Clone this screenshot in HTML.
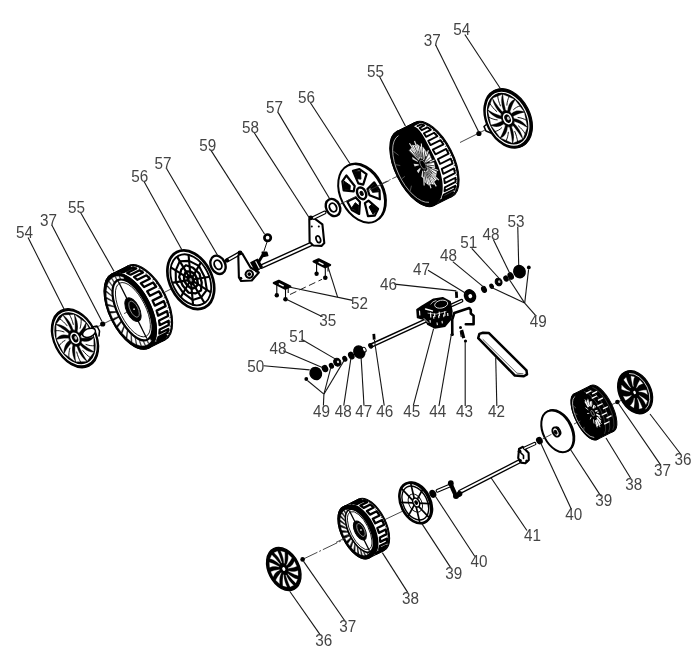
<!DOCTYPE html>
<html><head><meta charset="utf-8"><title>Wheel and drive assembly - exploded parts diagram</title>
<style>
html,body{margin:0;padding:0;background:#fff;}
svg{display:block;filter:grayscale(1)}
text{font-family:"Liberation Sans",sans-serif;fill:#444;}
</style></head><body>
<svg width="700" height="656" viewBox="0 0 700 656">
<rect width="700" height="656" fill="#fff"/>
<line x1="84" y1="333.5" x2="103" y2="324" stroke="#333" stroke-width="0.9" />
<line x1="103" y1="324" x2="112" y2="319.5" stroke="#333" stroke-width="0.9" />
<line x1="165" y1="292" x2="171" y2="289" stroke="#333" stroke-width="0.9" />
<line x1="327" y1="210.5" x2="347" y2="201" stroke="#333" stroke-width="0.9" />
<line x1="381" y1="184" x2="398" y2="176" stroke="#333" stroke-width="0.9" stroke-dasharray="7 2 1.5 2"/>
<line x1="460" y1="142.5" x2="486" y2="129.5" stroke="#333" stroke-width="0.9" />
<line x1="303" y1="559.2" x2="343" y2="540" stroke="#333" stroke-width="0.9" stroke-dasharray="16 2 2 2"/>
<line x1="384" y1="520" x2="403" y2="511" stroke="#333" stroke-width="0.9" />
<line x1="574" y1="424" x2="580" y2="421" stroke="#333" stroke-width="0.9" />
<line x1="612" y1="404.5" x2="622" y2="400" stroke="#333" stroke-width="0.9" />
<ellipse cx="75" cy="338.2" rx="21.22" ry="31.2" transform="rotate(-26.565 75 338.2)" fill="#000" stroke="#000" stroke-width="1.4" />
<ellipse cx="75" cy="338.2" rx="19.09" ry="28.08" transform="rotate(-26.565 75 338.2)" fill="none" stroke="#fff" stroke-width="1.1" />
<polygon points="80.94,335.87 82.43,334.72 83.74,333.23 84.83,331.41 85.67,329.26 86.23,326.78 86.48,324 93.02,336.69 91.2,337.17 89.35,337.52 87.46,337.74 85.54,337.85 83.6,337.89 81.65,337.85" fill="#fff" stroke="#fff" stroke-width="0.3" stroke-linejoin="round" stroke-linecap="round" />
<polyline points="84.94,335.94 86.57,335.01 88.09,333.84 89.48,332.42 90.72,330.74" fill="none" stroke="#000" stroke-width="0.9" stroke-linejoin="round" stroke-linecap="round" />
<polygon points="82.06,341.33 84.11,341.76 86.14,341.84 88.12,341.55 90.02,340.86 91.8,339.75 93.42,338.21 93.67,351.16 91.63,350.06 89.61,348.84 87.62,347.52 85.66,346.12 83.72,344.64 81.79,343.11" fill="#fff" stroke="#fff" stroke-width="0.3" stroke-linejoin="round" stroke-linecap="round" />
<polyline points="86.01,344.46 88.08,345.14 90.17,345.58 92.25,345.77 94.31,345.68" fill="none" stroke="#000" stroke-width="0.9" stroke-linejoin="round" stroke-linecap="round" />
<polygon points="80.48,345.59 82.3,347.45 84.29,349.06 86.4,350.41 88.63,351.45 90.95,352.13 93.32,352.41 87.19,360.68 85.7,358.42 84.29,356.1 82.97,353.75 81.7,351.36 80.5,348.94 79.34,346.49" fill="#fff" stroke="#fff" stroke-width="0.3" stroke-linejoin="round" stroke-linecap="round" />
<polyline points="82.87,350.59 84.6,352.62 86.45,354.5 88.43,356.22 90.53,357.76" fill="none" stroke="#000" stroke-width="0.9" stroke-linejoin="round" stroke-linecap="round" />
<polygon points="76.81,347.03 77.71,349.6 78.89,352.13 80.33,354.61 82.04,356.97 84.01,359.18 86.22,361.19 76.05,361.61 75.68,359.05 75.43,356.53 75.27,354.03 75.19,351.57 75.18,349.13 75.23,346.71" fill="#fff" stroke="#fff" stroke-width="0.3" stroke-linejoin="round" stroke-linecap="round" />
<polyline points="76.72,351.99 77.45,354.59 78.36,357.19 79.48,359.79 80.82,362.37" fill="none" stroke="#000" stroke-width="0.9" stroke-linejoin="round" stroke-linecap="round" />
<polygon points="72.45,345.1 72.08,347.39 72,349.88 72.22,352.54 72.75,355.33 73.62,358.22 74.84,361.18 64.52,353.6 65.41,351.72 66.4,349.95 67.46,348.27 68.6,346.68 69.79,345.15 71.03,343.68" fill="#fff" stroke="#fff" stroke-width="0.3" stroke-linejoin="round" stroke-linecap="round" />
<polyline points="69.92,348.12 69.36,350.3 68.99,352.63 68.82,355.12 68.88,357.75" fill="none" stroke="#000" stroke-width="0.9" stroke-linejoin="round" stroke-linecap="round" />
<polygon points="69.06,340.53 67.57,341.68 66.26,343.17 65.17,344.99 64.33,347.14 63.77,349.62 63.52,352.4 56.98,339.71 58.8,339.23 60.65,338.88 62.54,338.66 64.46,338.55 66.4,338.51 68.35,338.55" fill="#fff" stroke="#fff" stroke-width="0.3" stroke-linejoin="round" stroke-linecap="round" />
<polyline points="65.06,340.46 63.43,341.39 61.91,342.56 60.52,343.98 59.28,345.66" fill="none" stroke="#000" stroke-width="0.9" stroke-linejoin="round" stroke-linecap="round" />
<polygon points="67.94,335.07 65.89,334.64 63.86,334.56 61.88,334.85 59.98,335.54 58.2,336.65 56.58,338.19 56.33,325.24 58.37,326.34 60.39,327.56 62.38,328.88 64.34,330.28 66.28,331.76 68.21,333.29" fill="#fff" stroke="#fff" stroke-width="0.3" stroke-linejoin="round" stroke-linecap="round" />
<polyline points="63.99,331.94 61.92,331.26 59.83,330.82 57.75,330.63 55.69,330.72" fill="none" stroke="#000" stroke-width="0.9" stroke-linejoin="round" stroke-linecap="round" />
<polygon points="69.52,330.81 67.7,328.95 65.71,327.34 63.6,325.99 61.37,324.95 59.05,324.27 56.68,323.99 62.81,315.72 64.3,317.98 65.71,320.3 67.03,322.65 68.3,325.04 69.5,327.46 70.66,329.91" fill="#fff" stroke="#fff" stroke-width="0.3" stroke-linejoin="round" stroke-linecap="round" />
<polyline points="67.13,325.81 65.4,323.78 63.55,321.9 61.57,320.18 59.47,318.64" fill="none" stroke="#000" stroke-width="0.9" stroke-linejoin="round" stroke-linecap="round" />
<polygon points="73.19,329.37 72.29,326.8 71.11,324.27 69.67,321.79 67.96,319.43 65.99,317.22 63.78,315.21 73.95,314.79 74.32,317.35 74.57,319.87 74.73,322.37 74.81,324.83 74.82,327.27 74.77,329.69" fill="#fff" stroke="#fff" stroke-width="0.3" stroke-linejoin="round" stroke-linecap="round" />
<polyline points="73.28,324.41 72.55,321.81 71.64,319.21 70.52,316.61 69.18,314.03" fill="none" stroke="#000" stroke-width="0.9" stroke-linejoin="round" stroke-linecap="round" />
<polygon points="77.55,331.3 77.92,329.01 78,326.52 77.78,323.86 77.25,321.07 76.38,318.18 75.16,315.22 85.48,322.8 84.59,324.68 83.6,326.45 82.54,328.13 81.4,329.72 80.21,331.25 78.97,332.72" fill="#fff" stroke="#fff" stroke-width="0.3" stroke-linejoin="round" stroke-linecap="round" />
<polyline points="80.08,328.28 80.64,326.1 81.01,323.77 81.18,321.28 81.12,318.65" fill="none" stroke="#000" stroke-width="0.9" stroke-linejoin="round" stroke-linecap="round" />
<ellipse cx="75" cy="338.2" rx="3.61" ry="5.3" transform="rotate(-26.565 75 338.2)" fill="#000" stroke="#fff" stroke-width="1.5" />
<ellipse cx="75.72" cy="337.84" rx="1.27" ry="1.87" transform="rotate(-26.565 75.72 337.84)" fill="#ccc" stroke="none" stroke-width="0" />
<ellipse cx="89" cy="332.8" rx="6.8" ry="4.2" transform="rotate(-22 89 332.8)" fill="#fff" stroke="#000" stroke-width="1.5"/>
<polyline points="92,327 97,326 99.5,331 99,336" fill="none" stroke="#000" stroke-width="1.6" stroke-linejoin="round" stroke-linecap="round" />
<circle cx="102.7" cy="324" r="2.6" fill="#000" stroke="none" stroke-width="1"/>
<ellipse cx="130.3" cy="311" rx="20.75" ry="41.5" transform="rotate(-26.565 130.3 311)" fill="#000" stroke="#000" stroke-width="1" />
<ellipse cx="146.4" cy="302.95" rx="20.75" ry="41.5" transform="rotate(-26.565 146.4 302.95)" fill="#000" stroke="#000" stroke-width="1" />
<polygon points="148.86,348.12 164.96,340.07 127.84,265.83 111.74,273.88" fill="#000" stroke="#000" stroke-width="1" stroke-linejoin="round" stroke-linecap="round" />
<polygon points="113.17,274.33 114.48,273.78 115.87,273.42 117.33,273.24 118.86,273.23 120.45,273.41 122.1,273.78 123.78,274.31 125.51,275.03 127.26,275.92 129.04,276.98 130.82,278.2 132.61,279.58 134.38,281.11 136.15,282.78 137.89,284.59 139.6,286.52 141.27,288.57 142.88,290.73 144.45,292.98 145.94,295.32 147.37,297.74 148.72,300.21 149.98,302.74 151.15,305.3 152.23,307.89 153.2,310.49 154.07,313.1 154.82,315.69 155.46,318.25 155.98,320.78 156.39,323.25 156.67,325.67 156.82,328.01 156.85,330.27 156.76,332.43 156.54,334.48 156.2,336.41 155.74,338.22 155.16,339.9 154.46,341.43 153.65,342.81 152.73,344.04 151.7,345.1 150.58,345.99 149.36,346.71 163.37,339.7 164.59,338.99 165.71,338.09 166.73,337.03 167.65,335.81 168.47,334.43 169.16,332.9 169.75,331.22 170.21,329.41 170.55,327.47 170.77,325.42 170.86,323.26 170.83,321.01 170.67,318.67 170.39,316.25 169.99,313.77 169.47,311.25 168.83,308.68 168.07,306.09 167.21,303.49 166.24,300.89 165.16,298.3 163.99,295.73 162.73,293.21 161.38,290.73 159.95,288.32 158.45,285.98 156.89,283.73 155.27,281.57 153.6,279.52 151.9,277.58 150.16,275.78 148.39,274.1 146.61,272.57 144.83,271.2 143.04,269.97 141.27,268.92 139.52,268.03 137.79,267.31 136.1,266.77 134.46,266.41 132.87,266.23 131.34,266.23 129.87,266.42 128.48,266.78 127.18,267.32" fill="#fff" stroke="none" stroke-width="0" stroke-linejoin="round" stroke-linecap="round" />
<polyline points="118.06,272.13 127.08,267.62 129.9,267.26 120.88,271.76 123.94,272.08 132.96,267.57 136.2,268.55 127.19,273.06 130.56,274.7 139.58,270.19 143.02,272.45 134,276.96 137.44,279.8 146.46,275.3 149.84,278.67 140.83,283.18 144.09,287.03 153.1,282.52 156.19,286.77 147.17,291.27 150.01,295.84 159.03,291.34 161.59,296.15 152.57,300.65 154.8,305.62 163.81,301.11 165.66,306.13 156.64,310.64 158.08,315.64 167.1,311.13 168.11,316.01 159.09,320.52 159.64,325.19 168.66,320.68 168.75,325.06 159.73,329.56 159.36,333.57 168.37,329.06 167.54,332.62 158.53,337.13 157.25,340.18 166.27,335.67 164.58,338.16 155.56,342.66 153.48,344.54 162.49,340.03" fill="none" stroke="#000" stroke-width="2.3" stroke-linejoin="round" stroke-linecap="round" stroke-linejoin="miter"/>
<line x1="129.42" y1="266.87" x2="130.87" y2="266.15" stroke="#000" stroke-width="0.8" />
<line x1="132.37" y1="266.84" x2="133.81" y2="266.12" stroke="#000" stroke-width="0.8" />
<line x1="135.53" y1="267.49" x2="136.98" y2="266.77" stroke="#000" stroke-width="0.8" />
<line x1="138.85" y1="268.81" x2="140.29" y2="268.08" stroke="#000" stroke-width="0.8" />
<line x1="142.26" y1="270.76" x2="143.71" y2="270.04" stroke="#000" stroke-width="0.8" />
<line x1="145.71" y1="273.32" x2="147.16" y2="272.6" stroke="#000" stroke-width="0.8" />
<line x1="149.13" y1="276.44" x2="150.58" y2="275.71" stroke="#000" stroke-width="0.8" />
<line x1="152.46" y1="280.06" x2="153.91" y2="279.33" stroke="#000" stroke-width="0.8" />
<line x1="155.64" y1="284.11" x2="157.09" y2="283.39" stroke="#000" stroke-width="0.8" />
<line x1="158.61" y1="288.53" x2="160.06" y2="287.81" stroke="#000" stroke-width="0.8" />
<line x1="161.31" y1="293.23" x2="162.76" y2="292.51" stroke="#000" stroke-width="0.8" />
<line x1="163.71" y1="298.13" x2="165.16" y2="297.41" stroke="#000" stroke-width="0.8" />
<line x1="165.75" y1="303.14" x2="167.2" y2="302.41" stroke="#000" stroke-width="0.8" />
<line x1="167.4" y1="308.16" x2="168.85" y2="307.43" stroke="#000" stroke-width="0.8" />
<line x1="168.62" y1="313.11" x2="170.07" y2="312.38" stroke="#000" stroke-width="0.8" />
<line x1="169.41" y1="317.89" x2="170.85" y2="317.17" stroke="#000" stroke-width="0.8" />
<line x1="169.73" y1="322.43" x2="171.18" y2="321.7" stroke="#000" stroke-width="0.8" />
<line x1="169.59" y1="326.63" x2="171.03" y2="325.9" stroke="#000" stroke-width="0.8" />
<line x1="168.98" y1="330.42" x2="170.43" y2="329.69" stroke="#000" stroke-width="0.8" />
<line x1="167.93" y1="333.73" x2="169.37" y2="333.01" stroke="#000" stroke-width="0.8" />
<line x1="166.44" y1="336.5" x2="167.89" y2="335.78" stroke="#000" stroke-width="0.8" />
<line x1="164.55" y1="338.69" x2="166" y2="337.97" stroke="#000" stroke-width="0.8" />
<ellipse cx="130.3" cy="311" rx="20.75" ry="41.5" transform="rotate(-26.565 130.3 311)" fill="#000" stroke="#000" stroke-width="1" />
<polygon points="142.94,329.2 141.82,330.52 149.25,343.11 151.09,340.95" fill="#fff" stroke="#fff" stroke-width="0.3" stroke-linejoin="round" stroke-linecap="round" />
<polygon points="141.21,331 139.76,331.73 145.86,345.1 148.25,343.91" fill="#fff" stroke="#fff" stroke-width="0.3" stroke-linejoin="round" stroke-linecap="round" />
<polygon points="139,331.92 137.28,332.03 141.79,345.6 144.62,345.43" fill="#fff" stroke="#fff" stroke-width="0.3" stroke-linejoin="round" stroke-linecap="round" />
<polygon points="136.42,331.93 134.5,331.41 137.21,344.59 140.37,345.44" fill="#fff" stroke="#fff" stroke-width="0.3" stroke-linejoin="round" stroke-linecap="round" />
<polygon points="133.57,331.03 131.54,329.91 132.34,342.11 135.68,343.95" fill="#fff" stroke="#fff" stroke-width="0.3" stroke-linejoin="round" stroke-linecap="round" />
<polygon points="130.57,329.25 128.52,327.57 127.37,338.27 130.75,341.02" fill="#fff" stroke="#fff" stroke-width="0.3" stroke-linejoin="round" stroke-linecap="round" />
<polygon points="127.57,326.67 125.58,324.51 122.54,333.24 125.8,336.78" fill="#fff" stroke="#fff" stroke-width="0.3" stroke-linejoin="round" stroke-linecap="round" />
<polygon points="124.68,323.4 122.85,320.87 118.04,327.23 121.05,331.41" fill="#fff" stroke="#fff" stroke-width="0.3" stroke-linejoin="round" stroke-linecap="round" />
<polygon points="122.04,319.6 120.44,316.78 114.08,320.52 116.7,325.15" fill="#fff" stroke="#fff" stroke-width="0.3" stroke-linejoin="round" stroke-linecap="round" />
<polygon points="119.76,315.42 118.46,312.45 110.82,313.39 112.95,318.27" fill="#fff" stroke="#fff" stroke-width="0.3" stroke-linejoin="round" stroke-linecap="round" />
<polygon points="117.94,311.04 117,308.06 108.42,306.15 109.96,311.07" fill="#fff" stroke="#fff" stroke-width="0.3" stroke-linejoin="round" stroke-linecap="round" />
<polygon points="116.66,306.67 116.13,303.79 106.98,299.13 107.85,303.87" fill="#fff" stroke="#fff" stroke-width="0.3" stroke-linejoin="round" stroke-linecap="round" />
<polygon points="115.97,302.48 115.87,299.83 106.55,292.63 106.73,296.98" fill="#fff" stroke="#fff" stroke-width="0.3" stroke-linejoin="round" stroke-linecap="round" />
<polygon points="115.92,298.67 116.24,296.37 107.16,286.93 106.63,290.7" fill="#fff" stroke="#fff" stroke-width="0.3" stroke-linejoin="round" stroke-linecap="round" />
<polygon points="116.49,295.39 117.23,293.55 108.79,282.28 107.57,285.31" fill="#fff" stroke="#fff" stroke-width="0.3" stroke-linejoin="round" stroke-linecap="round" />
<polygon points="117.66,292.8 118.78,291.48 111.35,278.89 109.51,281.05" fill="#fff" stroke="#fff" stroke-width="0.3" stroke-linejoin="round" stroke-linecap="round" />
<polygon points="119.39,291 120.84,290.27 114.74,276.9 112.35,278.09" fill="#fff" stroke="#fff" stroke-width="0.3" stroke-linejoin="round" stroke-linecap="round" />
<polygon points="121.6,290.08 123.32,289.97 118.81,276.4 115.98,276.57" fill="#fff" stroke="#fff" stroke-width="0.3" stroke-linejoin="round" stroke-linecap="round" />
<polygon points="124.18,290.07 126.1,290.59 123.39,277.41 120.23,276.56" fill="#fff" stroke="#fff" stroke-width="0.3" stroke-linejoin="round" stroke-linecap="round" />
<ellipse cx="132.3" cy="310" rx="15.84" ry="34.45" transform="rotate(-26.565 132.3 310)" fill="#000" stroke="none" stroke-width="0" />
<ellipse cx="132.53" cy="309.89" rx="13.83" ry="32.16" transform="rotate(-26.565 132.53 309.89)" fill="#fff" stroke="none" stroke-width="0" />
<ellipse cx="132.9" cy="309.7" rx="12.76" ry="29.67" transform="rotate(-26.565 132.9 309.7)" fill="none" stroke="#000" stroke-width="0.8" />
<line x1="118.24" y1="281.31" x2="146.82" y2="338.47" stroke="#000" stroke-width="1.3" />
<ellipse cx="132.97" cy="309.66" rx="6.43" ry="12.87" transform="rotate(-26.565 132.97 309.66)" fill="#000" stroke="#000" stroke-width="1" />
<ellipse cx="134.05" cy="309.13" rx="3.94" ry="8.75" transform="rotate(-26.565 134.05 309.13)" fill="none" stroke="#aaa" stroke-width="0.7" />
<circle cx="134.05" cy="309.13" r="0.9" fill="#ddd" stroke="none" stroke-width="1"/>
<ellipse cx="190.8" cy="279.8" rx="21.08" ry="31" transform="rotate(-26.565 190.8 279.8)" fill="#fff" stroke="#000" stroke-width="2.7" />
<ellipse cx="190.8" cy="279.8" rx="18.34" ry="26.97" transform="rotate(-26.565 190.8 279.8)" fill="none" stroke="#000" stroke-width="1.8" />
<line x1="192.93" y1="279.45" x2="209.78" y2="276.72" stroke="#000" stroke-width="2.1" />
<line x1="193.09" y1="281.23" x2="211.2" y2="292.52" stroke="#000" stroke-width="2.1" />
<line x1="192.38" y1="282.46" x2="204.83" y2="303.47" stroke="#000" stroke-width="2.1" />
<line x1="191.06" y1="282.67" x2="193.1" y2="305.37" stroke="#000" stroke-width="2.1" />
<line x1="189.64" y1="281.79" x2="180.49" y2="297.5" stroke="#000" stroke-width="2.1" />
<line x1="188.67" y1="280.15" x2="171.82" y2="282.88" stroke="#000" stroke-width="2.1" />
<line x1="188.51" y1="278.37" x2="170.4" y2="267.08" stroke="#000" stroke-width="2.1" />
<line x1="189.22" y1="277.14" x2="176.77" y2="256.13" stroke="#000" stroke-width="2.1" />
<line x1="190.54" y1="276.93" x2="188.5" y2="254.23" stroke="#000" stroke-width="2.1" />
<line x1="191.96" y1="277.81" x2="201.11" y2="262.1" stroke="#000" stroke-width="2.1" />
<polygon points="204.83,277.53 206.84,289.81 201.17,297.3 192.61,299.91 183.18,292.89 175.87,282.22 175.72,270.39 179.77,261.19 189.1,260.9 198.91,265.88" fill="none" stroke="#000" stroke-width="2.1" stroke-linejoin="round" stroke-linecap="round" />
<polygon points="201.73,282.48 200.97,290.55 195.33,293.47 188.43,292.58 182.67,285.57 179.17,276.95 181.24,269.7 185.98,265.26 193.03,267.79 199.45,273.66" fill="none" stroke="#000" stroke-width="2.3" stroke-linejoin="round" stroke-linecap="round" />
<polygon points="197.01,278.79 197.9,284.23 195.39,287.55 191.6,288.71 187.42,285.6 184.19,280.87 184.12,275.63 185.91,271.56 190.05,271.43 194.39,273.63" fill="none" stroke="#000" stroke-width="2.5" stroke-linejoin="round" stroke-linecap="round" />
<ellipse cx="190.8" cy="279.8" rx="3.37" ry="4.96" transform="rotate(-26.565 190.8 279.8)" fill="#000" stroke="#000" stroke-width="1" />
<ellipse cx="190.8" cy="279.8" rx="1.26" ry="1.86" transform="rotate(-26.565 190.8 279.8)" fill="#999" stroke="none" stroke-width="0" />
<ellipse cx="218" cy="264.8" rx="7.1" ry="9.6" transform="rotate(-26.565 218 264.8)" fill="#fff" stroke="#000" stroke-width="2.4" />
<ellipse cx="218" cy="264.8" rx="3.55" ry="4.8" transform="rotate(-26.565 218 264.8)" fill="#fff" stroke="#000" stroke-width="1.9" />
<ellipse cx="333" cy="207.5" rx="6.84" ry="9" transform="rotate(-26.565 333 207.5)" fill="#fff" stroke="#000" stroke-width="2.4" />
<ellipse cx="333" cy="207.5" rx="3.42" ry="4.5" transform="rotate(-26.565 333 207.5)" fill="#fff" stroke="#000" stroke-width="1.9" />
<ellipse cx="362.76" cy="192.72" rx="21.08" ry="31" transform="rotate(-26.565 362.76 192.72)" fill="#000" stroke="#000" stroke-width="1.5" />
<ellipse cx="361.6" cy="193.3" rx="21.08" ry="31" transform="rotate(-26.565 361.6 193.3)" fill="#fff" stroke="#000" stroke-width="2" />
<polygon points="358.32,183.41 363.21,184.61 366.53,174.19 359.43,169.17 352.94,170.86" fill="#fff" stroke="#000" stroke-width="2.2" stroke-linejoin="round" stroke-linecap="round" />
<polygon points="357.15,178.71 360.92,179.11 360.54,171.16 353.71,171.3" fill="#000" stroke="#000" stroke-width="1" stroke-linejoin="round" stroke-linecap="round" />
<polygon points="367.48,189.13 369.51,195.24 379.84,199.3 379.51,190.4 374.21,182.3" fill="#fff" stroke="#000" stroke-width="2.2" stroke-linejoin="round" stroke-linecap="round" />
<polygon points="370.52,187.63 372.5,192.34 378.6,191.79 374.32,183.27" fill="#000" stroke="#000" stroke-width="1" stroke-linejoin="round" stroke-linecap="round" />
<polygon points="368.51,200.61 364.88,203.19 367.94,216.12 374.84,215.64 378.05,208.94" fill="#fff" stroke="#000" stroke-width="2.2" stroke-linejoin="round" stroke-linecap="round" />
<polygon points="371.56,204.39 369.02,206.9 373.17,214.51 377.35,209.1" fill="#000" stroke="#000" stroke-width="1" stroke-linejoin="round" stroke-linecap="round" />
<polygon points="359.99,201.99 355.72,197.47 347.28,201.4 351.87,210.01 359.16,213.97" fill="#fff" stroke="#000" stroke-width="2.2" stroke-linejoin="round" stroke-linecap="round" />
<polygon points="358.83,205.82 355.28,202.67 351.75,207.92 358.61,213.09" fill="#000" stroke="#000" stroke-width="1" stroke-linejoin="round" stroke-linecap="round" />
<polygon points="353.69,191.36 354.69,185.99 346.41,175.49 342.35,181.29 343.64,190.43" fill="#fff" stroke="#000" stroke-width="2.2" stroke-linejoin="round" stroke-linecap="round" />
<polygon points="349.93,189.95 350.28,185.49 343.94,181.12 344,189.73" fill="#000" stroke="#000" stroke-width="1" stroke-linejoin="round" stroke-linecap="round" />
<ellipse cx="361.6" cy="193.3" rx="4.22" ry="6.2" transform="rotate(-26.565 361.6 193.3)" fill="#fff" stroke="#000" stroke-width="2.4" />
<ellipse cx="361.6" cy="193.3" rx="1.48" ry="2.17" transform="rotate(-26.565 361.6 193.3)" fill="#000" stroke="#000" stroke-width="1" />
<ellipse cx="415.5" cy="168.4" rx="19.92" ry="41.5" transform="rotate(-26.565 415.5 168.4)" fill="#000" stroke="#000" stroke-width="1" />
<ellipse cx="433.39" cy="159.46" rx="19.92" ry="41.5" transform="rotate(-26.565 433.39 159.46)" fill="#000" stroke="#000" stroke-width="1" />
<polygon points="434.06,205.52 451.95,196.57 414.83,122.34 396.94,131.28" fill="#000" stroke="#000" stroke-width="1" stroke-linejoin="round" stroke-linecap="round" />
<polygon points="413.9,126.18 415.07,126.67 416.22,127.38 417.37,128.29 418.51,129.39 419.64,130.68 420.76,132.15 421.89,133.78 423.02,135.56 424.15,137.48 425.3,139.53 426.46,141.68 427.64,143.93 428.83,146.26 430.04,148.66 431.26,151.11 432.5,153.6 433.76,156.12 435.02,158.64 436.24,161.19 437.37,163.76 438.4,166.36 439.33,168.95 440.16,171.54 440.88,174.11 441.48,176.65 441.97,179.14 442.34,181.57 442.59,183.94 442.71,186.22 442.72,188.41 442.6,190.5 442.36,192.47 442,194.33 441.53,196.05 440.93,197.63 440.22,199.06 439.41,200.34 438.48,201.46 437.46,202.41 436.34,203.19 450.83,195.95 451.95,195.17 452.97,194.21 453.9,193.1 454.71,191.82 455.42,190.38 456.02,188.8 456.49,187.08 456.85,185.23 457.09,183.25 457.21,181.16 457.2,178.97 457.08,176.69 456.83,174.33 456.46,171.89 455.97,169.4 455.37,166.87 454.65,164.3 453.82,161.71 452.89,159.11 451.86,156.52 450.73,153.94 449.51,151.4 448.2,148.89 446.82,146.44 445.37,144.06 443.85,141.76 442.27,139.54 440.65,137.43 438.98,135.42 437.28,133.54 435.55,131.78 433.81,130.17 432.06,128.69 430.31,127.37 428.57,126.22 426.85,125.22 425.15,124.4 423.49,123.75 421.87,123.27 420.29,122.98" fill="#fff" stroke="none" stroke-width="0" stroke-linejoin="round" stroke-linecap="round" />
<polyline points="417.43,126.11 421.06,124.29 424.22,125.51 419.61,127.81 421.76,130.21 427.48,127.35 430.8,129.78 423.9,133.23 426.06,136.79 434.12,132.76 437.37,136.23 428.25,140.79 430.5,145.13 440.5,140.13 443.46,144.4 432.81,149.72 435.45,154.32 446.19,148.96 448.64,153.72 437.91,159.09 440.04,163.98 450.78,158.62 452.56,163.55 441.82,168.92 443.22,173.8 453.95,168.44 454.93,173.19 444.2,178.56 444.75,183.09 455.48,177.73 455.6,181.97 444.86,187.34 444.54,191.21 455.27,185.84 454.51,189.27 443.78,194.64 442.6,197.57 453.33,192.21 451.75,194.59 441.01,199.96 439.06,201.75 449.79,196.38" fill="none" stroke="#000" stroke-width="1.9" stroke-linejoin="round" stroke-linecap="round" stroke-linejoin="miter"/>
<line x1="422.98" y1="124.64" x2="424.59" y2="123.84" stroke="#000" stroke-width="0.8" />
<line x1="426.2" y1="126.18" x2="427.81" y2="125.37" stroke="#000" stroke-width="0.8" />
<line x1="429.5" y1="128.32" x2="431.11" y2="127.51" stroke="#000" stroke-width="0.8" />
<line x1="432.82" y1="131.02" x2="434.43" y2="130.22" stroke="#000" stroke-width="0.8" />
<line x1="436.11" y1="134.26" x2="437.72" y2="133.45" stroke="#000" stroke-width="0.8" />
<line x1="439.31" y1="137.95" x2="440.92" y2="137.15" stroke="#000" stroke-width="0.8" />
<line x1="442.36" y1="142.04" x2="443.97" y2="141.24" stroke="#000" stroke-width="0.8" />
<line x1="445.21" y1="146.47" x2="446.82" y2="145.66" stroke="#000" stroke-width="0.8" />
<line x1="447.81" y1="151.14" x2="449.42" y2="150.34" stroke="#000" stroke-width="0.8" />
<line x1="450.11" y1="155.98" x2="451.72" y2="155.18" stroke="#000" stroke-width="0.8" />
<line x1="452.07" y1="160.91" x2="453.68" y2="160.1" stroke="#000" stroke-width="0.8" />
<line x1="453.66" y1="165.83" x2="455.27" y2="165.02" stroke="#000" stroke-width="0.8" />
<line x1="454.85" y1="170.66" x2="456.46" y2="169.85" stroke="#000" stroke-width="0.8" />
<line x1="455.62" y1="175.31" x2="457.23" y2="174.51" stroke="#000" stroke-width="0.8" />
<line x1="455.95" y1="179.71" x2="457.56" y2="178.91" stroke="#000" stroke-width="0.8" />
<line x1="455.85" y1="183.78" x2="457.46" y2="182.97" stroke="#000" stroke-width="0.8" />
<line x1="455.3" y1="187.44" x2="456.91" y2="186.63" stroke="#000" stroke-width="0.8" />
<line x1="454.33" y1="190.63" x2="455.94" y2="189.82" stroke="#000" stroke-width="0.8" />
<line x1="452.94" y1="193.29" x2="454.55" y2="192.49" stroke="#000" stroke-width="0.8" />
<line x1="451.17" y1="195.39" x2="452.78" y2="194.58" stroke="#000" stroke-width="0.8" />
<ellipse cx="415.5" cy="168.4" rx="19.72" ry="41.09" transform="rotate(-26.565 415.5 168.4)" fill="#000" stroke="#000" stroke-width="1" />
<path d="M429.01 202.31 A17.73 36.94 -26.565 0 1 398.44 135.66" fill="none" stroke="#bbb" stroke-width="0.9"/>
<polygon points="418.77,159.94 419.01,159.23 411.64,148.03 409.42,150.19" fill="#fff" stroke="#fff" stroke-width="0.4" stroke-linejoin="round" stroke-linecap="round" />
<line x1="418.17" y1="158.59" x2="410.99" y2="149.3" stroke="#000" stroke-width="0.7" />
<line x1="415.14" y1="152.24" x2="409.46" y2="143.28" stroke="#e8e8e8" stroke-width="1.1" />
<polygon points="419.65,158.45 420.19,158.21 415.42,145.59 412.04,145.21" fill="#fff" stroke="#fff" stroke-width="0.4" stroke-linejoin="round" stroke-linecap="round" />
<line x1="419.43" y1="157.16" x2="414.21" y2="145.88" stroke="#000" stroke-width="0.7" />
<line x1="418.08" y1="150.9" x2="414.52" y2="140.98" stroke="#e8e8e8" stroke-width="1.1" />
<polygon points="421.22,158.23 421.94,158.49 420.74,147.01 416.89,144.16" fill="#fff" stroke="#fff" stroke-width="0.4" stroke-linejoin="round" stroke-linecap="round" />
<line x1="421.41" y1="157.25" x2="419.22" y2="146.25" stroke="#000" stroke-width="0.7" />
<line x1="422.02" y1="152.35" x2="421.3" y2="143.46" stroke="#e8e8e8" stroke-width="1.1" />
<polygon points="423.15,159.3 423.91,160.02 426.52,152 422.97,147.26" fill="#fff" stroke="#fff" stroke-width="0.4" stroke-linejoin="round" stroke-linecap="round" />
<line x1="423.71" y1="158.84" x2="424.99" y2="150.35" stroke="#000" stroke-width="0.7" />
<line x1="426.16" y1="156.28" x2="428.42" y2="150.24" stroke="#e8e8e8" stroke-width="1.1" />
<polygon points="425.06,161.45 425.7,162.48 431.59,159.54 429.07,153.87" fill="#fff" stroke="#fff" stroke-width="0.4" stroke-linejoin="round" stroke-linecap="round" />
<line x1="425.88" y1="161.6" x2="430.36" y2="157.34" stroke="#000" stroke-width="0.7" />
<line x1="429.66" y1="161.9" x2="434.45" y2="159.93" stroke="#e8e8e8" stroke-width="1.1" />
<polygon points="426.54,164.25 426.94,165.38 434.93,168.12 433.94,162.67" fill="#fff" stroke="#fff" stroke-width="0.4" stroke-linejoin="round" stroke-linecap="round" />
<line x1="427.46" y1="164.98" x2="434.25" y2="165.81" stroke="#000" stroke-width="0.7" />
<line x1="431.81" y1="168.09" x2="438.17" y2="170.57" stroke="#e8e8e8" stroke-width="1.1" />
<polygon points="427.32,167.13 427.39,168.13 435.85,176 436.59,171.86" fill="#fff" stroke="#fff" stroke-width="0.4" stroke-linejoin="round" stroke-linecap="round" />
<line x1="428.15" y1="168.29" x2="435.86" y2="174.04" stroke="#000" stroke-width="0.7" />
<line x1="432.19" y1="173.57" x2="438.82" y2="180.02" stroke="#e8e8e8" stroke-width="1.1" />
<polygon points="427.22,169.5 426.95,170.18 434.17,181.57 436.5,179.6" fill="#fff" stroke="#fff" stroke-width="0.4" stroke-linejoin="round" stroke-linecap="round" />
<line x1="427.79" y1="170.86" x2="434.87" y2="180.37" stroke="#000" stroke-width="0.7" />
<line x1="430.71" y1="177.25" x2="436.26" y2="186.35" stroke="#e8e8e8" stroke-width="1.1" />
<polygon points="426.27,170.9 425.72,171.1 430.24,183.72 433.68,184.3" fill="#fff" stroke="#fff" stroke-width="0.4" stroke-linejoin="round" stroke-linecap="round" />
<line x1="426.47" y1="172.17" x2="431.48" y2="183.52" stroke="#000" stroke-width="0.7" />
<line x1="427.67" y1="178.37" x2="431.03" y2="188.29" stroke="#e8e8e8" stroke-width="1.1" />
<polygon points="424.66,171.02 423.94,170.72 424.84,182.01 428.7,185.03" fill="#fff" stroke="#fff" stroke-width="0.4" stroke-linejoin="round" stroke-linecap="round" />
<line x1="424.45" y1="171.96" x2="426.38" y2="182.85" stroke="#000" stroke-width="0.7" />
<line x1="423.69" y1="176.72" x2="424.17" y2="185.44" stroke="#e8e8e8" stroke-width="1.1" />
<polygon points="423.03,171.08 422.31,170.45 421.35,176.65 423.23,178.31" fill="#ddd" stroke="none" stroke-width="0" stroke-linejoin="round" stroke-linecap="round" />
<polygon points="420.77,168.63 420.15,167.69 416.84,170.78 418.48,173.26" fill="#ddd" stroke="none" stroke-width="0" stroke-linejoin="round" stroke-linecap="round" />
<polygon points="418.97,165.37 418.56,164.31 413.58,163.66 414.64,166.46" fill="#ddd" stroke="none" stroke-width="0" stroke-linejoin="round" stroke-linecap="round" />
<polygon points="417.98,161.97 417.88,161 412.22,156.75 412.49,159.29" fill="#ddd" stroke="none" stroke-width="0" stroke-linejoin="round" stroke-linecap="round" />
<ellipse cx="423.01" cy="164.64" rx="2.39" ry="4.98" transform="rotate(-26.565 423.01 164.64)" fill="#000" stroke="#999" stroke-width="0.7" />
<line x1="411.44" y1="185.74" x2="410.21" y2="191" stroke="#666" stroke-width="0.8" />
<line x1="404.85" y1="176.39" x2="401.63" y2="178.81" stroke="#666" stroke-width="0.8" />
<line x1="400.26" y1="165.55" x2="395.64" y2="164.68" stroke="#666" stroke-width="0.8" />
<line x1="398.52" y1="155.23" x2="393.38" y2="151.25" stroke="#666" stroke-width="0.8" />
<circle cx="478.9" cy="133.5" r="2.6" fill="#000" stroke="none" stroke-width="1"/>
<ellipse cx="508.76" cy="118.12" rx="21.39" ry="31" transform="rotate(-26.565 508.76 118.12)" fill="#000" stroke="#000" stroke-width="1.2" />
<ellipse cx="507.6" cy="118.7" rx="21.39" ry="31" transform="rotate(-26.565 507.6 118.7)" fill="#000" stroke="#000" stroke-width="1.4" />
<ellipse cx="507.6" cy="118.7" rx="19.25" ry="27.9" transform="rotate(-26.565 507.6 118.7)" fill="none" stroke="#fff" stroke-width="1.1" />
<polygon points="513.58,116.35 515.25,115.53 516.95,114.78 518.68,114.12 520.46,113.55 522.3,113.1 524.18,112.79 526.97,126.2 524.91,123.93 522.77,122.05 520.61,120.55 518.46,119.44 516.34,118.69 514.28,118.31" fill="#fff" stroke="#fff" stroke-width="0.3" stroke-linejoin="round" stroke-linecap="round" />
<polyline points="517.99,117.52 520.04,117.82 522.14,118.37 524.29,119.18 526.47,120.28" fill="none" stroke="#000" stroke-width="0.9" stroke-linejoin="round" stroke-linecap="round" />
<polygon points="514.67,121.78 516.72,122.53 518.77,123.36 520.81,124.26 522.85,125.26 524.88,126.38 526.9,127.62 523.02,138.2 522.1,135.19 520.93,132.38 519.53,129.79 517.96,127.45 516.23,125.36 514.39,123.55" fill="#fff" stroke="#fff" stroke-width="0.3" stroke-linejoin="round" stroke-linecap="round" />
<polyline points="518.44,125.88 520.32,127.63 522.12,129.58 523.84,131.73 525.45,134.08" fill="none" stroke="#000" stroke-width="0.9" stroke-linejoin="round" stroke-linecap="round" />
<polygon points="513.06,126.04 514.71,128.08 516.33,130.16 517.9,132.28 519.42,134.47 520.87,136.72 522.25,139.04 513.18,142.75 513.76,140.16 513.99,137.49 513.9,134.79 513.5,132.11 512.83,129.48 511.91,126.94" fill="#fff" stroke="#fff" stroke-width="0.3" stroke-linejoin="round" stroke-linecap="round" />
<polyline points="514.75,131.49 515.74,134.03 516.56,136.63 517.19,139.3 517.62,142.01" fill="none" stroke="#000" stroke-width="0.9" stroke-linejoin="round" stroke-linecap="round" />
<polygon points="509.36,127.49 509.98,130.04 510.55,132.58 511.05,135.12 511.46,137.65 511.79,140.18 512,142.7 501.21,138.12 503.06,136.93 504.61,135.42 505.85,133.65 506.79,131.66 507.43,129.49 507.78,127.18" fill="#fff" stroke="#fff" stroke-width="0.3" stroke-linejoin="round" stroke-linecap="round" />
<polyline points="508.33,132.22 508.05,134.57 507.57,136.84 506.88,139 505.95,141.04" fill="none" stroke="#000" stroke-width="0.9" stroke-linejoin="round" stroke-linecap="round" />
<polygon points="504.99,125.59 504.35,127.67 503.64,129.7 502.88,131.68 502.04,133.6 501.11,135.44 500.07,137.19 491.68,126.07 494.1,126.73 496.38,126.97 498.48,126.79 500.39,126.25 502.09,125.37 503.58,124.18" fill="#fff" stroke="#fff" stroke-width="0.3" stroke-linejoin="round" stroke-linecap="round" />
<polyline points="501.63,127.78 500.19,129.05 498.6,130.11 496.84,130.95 494.92,131.53" fill="none" stroke="#000" stroke-width="0.9" stroke-linejoin="round" stroke-linecap="round" />
<polygon points="501.62,121.05 499.95,121.87 498.25,122.62 496.52,123.28 494.74,123.85 492.9,124.3 491.02,124.61 488.23,111.2 490.29,113.47 492.43,115.35 494.59,116.85 496.74,117.96 498.86,118.71 500.92,119.09" fill="#fff" stroke="#fff" stroke-width="0.3" stroke-linejoin="round" stroke-linecap="round" />
<polyline points="497.21,119.88 495.16,119.58 493.06,119.03 490.91,118.22 488.73,117.12" fill="none" stroke="#000" stroke-width="0.9" stroke-linejoin="round" stroke-linecap="round" />
<polygon points="500.53,115.62 498.48,114.87 496.43,114.04 494.39,113.14 492.35,112.14 490.32,111.02 488.3,109.78 492.18,99.2 493.1,102.21 494.27,105.02 495.67,107.61 497.24,109.95 498.97,112.04 500.81,113.85" fill="#fff" stroke="#fff" stroke-width="0.3" stroke-linejoin="round" stroke-linecap="round" />
<polyline points="496.76,111.52 494.88,109.77 493.08,107.82 491.36,105.67 489.75,103.32" fill="none" stroke="#000" stroke-width="0.9" stroke-linejoin="round" stroke-linecap="round" />
<polygon points="502.14,111.36 500.49,109.32 498.87,107.24 497.3,105.12 495.78,102.93 494.33,100.68 492.95,98.36 502.02,94.65 501.44,97.24 501.21,99.91 501.3,102.61 501.7,105.29 502.37,107.92 503.29,110.46" fill="#fff" stroke="#fff" stroke-width="0.3" stroke-linejoin="round" stroke-linecap="round" />
<polyline points="500.45,105.91 499.46,103.37 498.64,100.77 498.01,98.1 497.58,95.39" fill="none" stroke="#000" stroke-width="0.9" stroke-linejoin="round" stroke-linecap="round" />
<polygon points="505.84,109.91 505.22,107.36 504.65,104.82 504.15,102.28 503.74,99.75 503.41,97.22 503.2,94.7 513.99,99.28 512.14,100.47 510.59,101.98 509.35,103.75 508.41,105.74 507.77,107.91 507.42,110.22" fill="#fff" stroke="#fff" stroke-width="0.3" stroke-linejoin="round" stroke-linecap="round" />
<polyline points="506.87,105.18 507.15,102.83 507.63,100.56 508.32,98.4 509.25,96.36" fill="none" stroke="#000" stroke-width="0.9" stroke-linejoin="round" stroke-linecap="round" />
<polygon points="510.21,111.81 510.85,109.73 511.56,107.7 512.32,105.72 513.16,103.8 514.09,101.96 515.13,100.21 523.52,111.33 521.1,110.67 518.82,110.43 516.72,110.61 514.81,111.15 513.11,112.03 511.62,113.22" fill="#fff" stroke="#fff" stroke-width="0.3" stroke-linejoin="round" stroke-linecap="round" />
<polyline points="513.57,109.62 515.01,108.35 516.6,107.29 518.36,106.45 520.28,105.87" fill="none" stroke="#000" stroke-width="0.9" stroke-linejoin="round" stroke-linecap="round" />
<ellipse cx="507.6" cy="118.7" rx="3.64" ry="5.27" transform="rotate(-26.565 507.6 118.7)" fill="#000" stroke="#fff" stroke-width="1.5" />
<ellipse cx="508.32" cy="118.34" rx="1.28" ry="1.86" transform="rotate(-26.565 508.32 118.34)" fill="#ccc" stroke="none" stroke-width="0" />
<polyline points="487,124 484,126.5 486,131 491,133" fill="none" stroke="#000" stroke-width="1.6" stroke-linejoin="round" stroke-linecap="round" />
<polyline points="227,260.4 240,253.2" fill="none" stroke="#000" stroke-width="4.2" stroke-linejoin="round" stroke-linecap="round" />
<polyline points="227,260.4 240,253.2" fill="none" stroke="#fff" stroke-width="1.7" stroke-linejoin="round" stroke-linecap="round" />
<circle cx="227.2" cy="260.3" r="1.9" fill="#000" stroke="none" stroke-width="1"/>
<polygon points="239.5,253 242.3,253.6 250.5,267.5 258.8,272.5 251.8,280.5 241,281 238.9,277.5 238.3,256" fill="#fff" stroke="#000" stroke-width="2.1" stroke-linejoin="round" stroke-linecap="round" />
<circle cx="240" cy="252.9" r="2.4" fill="#000" stroke="none" stroke-width="1"/>
<circle cx="249.3" cy="274.2" r="4.7" fill="#000" stroke="none" stroke-width="1"/>
<circle cx="249.3" cy="274.2" r="2.3" fill="none" stroke="#fff" stroke-width="0.9"/>
<circle cx="240.8" cy="278.2" r="1.5" fill="#000" stroke="none" stroke-width="1"/>
<polyline points="261.8,266.4 311.5,243.9" fill="none" stroke="#000" stroke-width="4.8" stroke-linejoin="round" stroke-linecap="round" />
<polyline points="261.8,266.4 311.5,243.9" fill="none" stroke="#fff" stroke-width="2.0" stroke-linejoin="round" stroke-linecap="round" />
<polygon points="251,262.6 257.5,259.4 262,266.4 256.2,271.6" fill="#000" stroke="#000" stroke-width="1.6" stroke-linejoin="round" stroke-linecap="round" />
<line x1="255.6" y1="261.2" x2="259.4" y2="268.6" stroke="#fff" stroke-width="1.1" />
<polyline points="263,254.5 258.8,261.8" fill="none" stroke="#000" stroke-width="2.8" stroke-linejoin="round" stroke-linecap="round" />
<polygon points="262.2,252.2 266.8,252.2 267.8,255.6 263,256.6" fill="#000" stroke="#000" stroke-width="1.4" stroke-linejoin="round" stroke-linecap="round" />
<line x1="267" y1="242" x2="263.8" y2="251.6" stroke="#111" stroke-width="1" />
<circle cx="267.6" cy="237.7" r="3.2" fill="#fff" stroke="#000" stroke-width="2.7"/>
<polygon points="309.3,219 312,217.2 316,219.7 322.4,224.4 324.3,243 321.5,245.9 313.3,245.5 309.6,242.1" fill="#fff" stroke="#000" stroke-width="2.1" stroke-linejoin="round" stroke-linecap="round" />
<ellipse cx="318.3" cy="239.3" rx="2.1" ry="3.5" transform="rotate(-20 318.3 239.3)" fill="#fff" stroke="#000" stroke-width="1.7"/>
<circle cx="311.8" cy="226.6" r="1" fill="#000" stroke="none" stroke-width="1"/>
<circle cx="318.8" cy="226.6" r="1" fill="#000" stroke="none" stroke-width="1"/>
<polyline points="313.8,217.8 324.6,212.5" fill="none" stroke="#000" stroke-width="4.0" stroke-linejoin="round" stroke-linecap="round" />
<polyline points="313.8,217.8 324.6,212.5" fill="none" stroke="#fff" stroke-width="1.6" stroke-linejoin="round" stroke-linecap="round" />
<circle cx="310.8" cy="217.9" r="2.4" fill="#000" stroke="none" stroke-width="1"/>
<polygon points="313.6,261.5 318.6,259.3 330.1,264.9 325.1,267.3" fill="#000" stroke="#000" stroke-width="2.2" stroke-linejoin="round" stroke-linecap="round" />
<polyline points="319.1,262.3 323.1,264.3" fill="none" stroke="#fff" stroke-width="1.3" stroke-linejoin="round" stroke-linecap="round" />
<line x1="316.6" y1="263.5" x2="316.6" y2="272.5" stroke="#000" stroke-width="1.1" />
<line x1="325.3" y1="267.5" x2="325.3" y2="276.5" stroke="#000" stroke-width="1.1" />
<line x1="328" y1="266.5" x2="328" y2="271.5" stroke="#000" stroke-width="1" />
<circle cx="316.6" cy="273.8" r="2.2" fill="#000" stroke="none" stroke-width="1"/>
<circle cx="325.3" cy="277.8" r="2.3" fill="#000" stroke="none" stroke-width="1"/>
<polygon points="273.8,283 278.8,280.8 290.3,286.4 285.3,288.8" fill="#000" stroke="#000" stroke-width="2.2" stroke-linejoin="round" stroke-linecap="round" />
<polyline points="279.3,283.8 283.3,285.8" fill="none" stroke="#fff" stroke-width="1.3" stroke-linejoin="round" stroke-linecap="round" />
<line x1="276.8" y1="285" x2="276.8" y2="294" stroke="#000" stroke-width="1.1" />
<line x1="285.5" y1="289" x2="285.5" y2="298" stroke="#000" stroke-width="1.1" />
<line x1="288.2" y1="288" x2="288.2" y2="293" stroke="#000" stroke-width="1" />
<circle cx="276.8" cy="295.3" r="2.2" fill="#000" stroke="none" stroke-width="1"/>
<circle cx="285.5" cy="299.3" r="2.3" fill="#000" stroke="none" stroke-width="1"/>
<line x1="290" y1="294.5" x2="322" y2="279.3" stroke="#222" stroke-width="1" stroke-dasharray="7 3.5"/>
<polyline points="371.5,345.4 427,320" fill="none" stroke="#000" stroke-width="4.6" stroke-linejoin="round" stroke-linecap="round" />
<polyline points="371.5,345.4 427,320" fill="none" stroke="#fff" stroke-width="1.7" stroke-linejoin="round" stroke-linecap="round" />
<ellipse cx="370.6" cy="345.8" rx="1.54" ry="2.2" transform="rotate(-26.565 370.6 345.8)" fill="#000" stroke="#000" stroke-width="1.5" />
<polyline points="450,306 461.5,300.8" fill="none" stroke="#000" stroke-width="3.8" stroke-linejoin="round" stroke-linecap="round" />
<polyline points="450,306 461.5,300.8" fill="none" stroke="#fff" stroke-width="1.3" stroke-linejoin="round" stroke-linecap="round" />
<polygon points="422.1,306.1 433.6,299.3 442.7,297.8 450.1,301.6 451.9,311.3 450.7,319.3 445,326.1 434.7,327.9 427.9,324.4 425.6,319.8 417.6,317.6 417,309.6" fill="#000" stroke="#000" stroke-width="1.6" stroke-linejoin="round" stroke-linecap="round" />
<ellipse cx="441.2" cy="304.2" rx="6.6" ry="3.9" transform="rotate(-12 441.2 304.2)" fill="none" stroke="#ddd" stroke-width="0.9"/>
<polyline points="425.6,309 432.4,310.9" fill="none" stroke="#fff" stroke-width="1.5" stroke-linejoin="round" stroke-linecap="round" />
<polyline points="419.5,311 419.8,315" fill="none" stroke="#eee" stroke-width="1.2" stroke-linejoin="round" stroke-linecap="round" />
<line x1="433.5" y1="316" x2="433.9" y2="318.6" stroke="#eee" stroke-width="1.1" />
<line x1="438.5" y1="315.5" x2="438.9" y2="318.1" stroke="#eee" stroke-width="1.1" />
<line x1="443.5" y1="314.5" x2="443.9" y2="317.1" stroke="#eee" stroke-width="1.1" />
<line x1="437" y1="322.5" x2="437.4" y2="325.1" stroke="#eee" stroke-width="1.1" />
<line x1="442" y1="320.8" x2="442.4" y2="323.4" stroke="#eee" stroke-width="1.1" />
<line x1="430" y1="320" x2="430.4" y2="322.6" stroke="#eee" stroke-width="1.1" />
<polyline points="428,313.2 436,314.2 446,311.5" fill="none" stroke="#ccc" stroke-width="0.8" stroke-linejoin="round" stroke-linecap="round" />
<line x1="430.5" y1="312.5" x2="430.8" y2="317.5" stroke="#f2f2f2" stroke-width="1.2" />
<line x1="434.5" y1="313.5" x2="434.8" y2="317" stroke="#f2f2f2" stroke-width="1.2" />
<line x1="439.2" y1="311.8" x2="439.5" y2="316.3" stroke="#f2f2f2" stroke-width="1.2" />
<line x1="444.6" y1="311.4" x2="444.9" y2="315.9" stroke="#f2f2f2" stroke-width="1.2" />
<line x1="447.6" y1="313" x2="447.9" y2="316" stroke="#f2f2f2" stroke-width="1.2" />
<polyline points="430.8,304 433,301.8 436,300.6" fill="none" stroke="#ddd" stroke-width="0.9" stroke-linejoin="round" stroke-linecap="round" />
<polyline points="424,318.5 428,322.5" fill="none" stroke="#ddd" stroke-width="0.9" stroke-linejoin="round" stroke-linecap="round" />
<line x1="456.3" y1="291.5" x2="456.7" y2="297.8" stroke="#000" stroke-width="2.8" />
<line x1="373.8" y1="333.8" x2="374.2" y2="339.6" stroke="#000" stroke-width="2.8" />
<ellipse cx="470" cy="296" rx="5.35" ry="6.3" transform="rotate(-26.565 470 296)" fill="#000" stroke="#000" stroke-width="1.5" />
<ellipse cx="470.3" cy="296.1" rx="1.89" ry="2.1" transform="rotate(-26.565 470.3 296.1)" fill="#fff" stroke="none" stroke-width="0" />
<ellipse cx="484" cy="289.4" rx="2.03" ry="2.9" transform="rotate(-26.565 484 289.4)" fill="#000" stroke="#000" stroke-width="1.5" />
<ellipse cx="491.6" cy="286.2" rx="1.5" ry="2" transform="rotate(-26.565 491.6 286.2)" fill="#000" stroke="#000" stroke-width="1.5" />
<ellipse cx="498.6" cy="282" rx="3.31" ry="3.9" transform="rotate(-26.565 498.6 282)" fill="#000" stroke="#000" stroke-width="1" />
<ellipse cx="499.2" cy="281.7" rx="1.19" ry="1.4" transform="rotate(-26.565 499.2 281.7)" fill="#bbb" stroke="none" stroke-width="0" />
<ellipse cx="506" cy="278.6" rx="1.88" ry="2.5" transform="rotate(-26.565 506 278.6)" fill="#000" stroke="#000" stroke-width="1.5" />
<ellipse cx="510.7" cy="276" rx="2.24" ry="3.2" transform="rotate(-26.565 510.7 276)" fill="#000" stroke="#000" stroke-width="1.5" />
<ellipse cx="519.5" cy="271.6" rx="5.58" ry="6.2" transform="rotate(-26.565 519.5 271.6)" fill="#000" stroke="#000" stroke-width="1.5" />
<circle cx="528.8" cy="267.4" r="1.9" fill="#000" stroke="none" stroke-width="1"/>
<ellipse cx="359.3" cy="352" rx="5.27" ry="6.2" transform="rotate(-26.565 359.3 352)" fill="#000" stroke="#000" stroke-width="1.5" />
<ellipse cx="364.3" cy="349.6" rx="1.62" ry="2.5" transform="rotate(-26.565 364.3 349.6)" fill="#fff" stroke="#000" stroke-width="1" />
<ellipse cx="351.3" cy="355.6" rx="2.31" ry="3.3" transform="rotate(-26.565 351.3 355.6)" fill="#000" stroke="#000" stroke-width="1.5" />
<ellipse cx="344.8" cy="358.8" rx="1.72" ry="2.3" transform="rotate(-26.565 344.8 358.8)" fill="#000" stroke="#000" stroke-width="1.5" />
<ellipse cx="337.3" cy="362.2" rx="3.48" ry="4.1" transform="rotate(-26.565 337.3 362.2)" fill="#000" stroke="#000" stroke-width="1" />
<ellipse cx="338" cy="361.9" rx="1.1" ry="1.3" transform="rotate(-26.565 338 361.9)" fill="#ddd" stroke="none" stroke-width="0" />
<ellipse cx="331.4" cy="365.8" rx="1.72" ry="2.3" transform="rotate(-26.565 331.4 365.8)" fill="#000" stroke="#000" stroke-width="1.5" />
<ellipse cx="325" cy="368.6" rx="2.4" ry="3" transform="rotate(-26.565 325 368.6)" fill="#000" stroke="#000" stroke-width="1.5" />
<ellipse cx="315.8" cy="373.5" rx="5.61" ry="6.1" transform="rotate(-26.565 315.8 373.5)" fill="#000" stroke="#000" stroke-width="1.5" />
<circle cx="306.3" cy="379" r="1.9" fill="#000" stroke="none" stroke-width="1"/>
<polyline points="452.3,334.6 452.2,319.6 454.3,313 469.3,308 470.8,310 470.8,313.6 473.6,315.8 473.6,324.3 465.8,324.3" fill="none" stroke="#000" stroke-width="2.6" stroke-linejoin="round" stroke-linecap="round" />
<circle cx="452.1" cy="334.5" r="1.6" fill="#000" stroke="none" stroke-width="1"/>
<line x1="461.6" y1="330" x2="463.7" y2="338.2" stroke="#000" stroke-width="3.2" />
<line x1="460.2" y1="331" x2="461.2" y2="337" stroke="#000" stroke-width="1" />
<circle cx="460.5" cy="327.6" r="1.5" fill="#000" stroke="none" stroke-width="1"/>
<circle cx="465.5" cy="341" r="1.6" fill="#000" stroke="none" stroke-width="1"/>
<polygon points="488.7,332.9 526.5,370.3 527,374.4 523.8,376.3 514.8,375.5 478.2,338.2 479.4,333.9 483,332.7" fill="#fff" stroke="#000" stroke-width="2.5" stroke-linejoin="round" stroke-linecap="round" />
<polyline points="483,339.5 517,373.2 523,373.8" fill="none" stroke="#333" stroke-width="0.8" stroke-linejoin="round" stroke-linecap="round" />
<ellipse cx="283.8" cy="569" rx="15.5" ry="22.8" transform="rotate(-26.565 283.8 569)" fill="#000" stroke="#000" stroke-width="1.4" />
<polygon points="288.35,567.81 289.6,567.23 290.77,566.46 291.85,565.52 292.82,564.39 293.68,563.07 294.4,561.56 296.58,566.21 295.3,566.73 293.99,567.16 292.65,567.51 291.28,567.8 289.9,568.03 288.5,568.21" fill="#fff" stroke="#fff" stroke-width="0.3" stroke-linejoin="round" stroke-linecap="round" />
<polygon points="288.96,571.15 290.48,571.55 292,571.78 293.5,571.82 294.97,571.66 296.4,571.29 297.77,570.69 298.06,575.41 296.53,574.94 295,574.38 293.48,573.75 291.96,573.06 290.45,572.32 288.94,571.53" fill="#fff" stroke="#fff" stroke-width="0.3" stroke-linejoin="round" stroke-linecap="round" />
<polygon points="288.19,573.91 289.58,575.19 291.03,576.35 292.55,577.36 294.13,578.21 295.74,578.88 297.4,579.36 295.72,582.9 294.35,581.56 293.02,580.16 291.72,578.72 290.46,577.23 289.22,575.71 288.01,574.16" fill="#fff" stroke="#fff" stroke-width="0.3" stroke-linejoin="round" stroke-linecap="round" />
<polygon points="286.23,575.35 287.12,577.17 288.13,578.95 289.26,580.66 290.51,582.3 291.89,583.84 293.38,585.26 290.18,586.66 289.34,584.81 288.56,582.95 287.84,581.08 287.17,579.2 286.54,577.31 285.94,575.41" fill="#fff" stroke="#fff" stroke-width="0.3" stroke-linejoin="round" stroke-linecap="round" />
<polygon points="283.63,575.09 283.77,576.97 284.06,578.88 284.51,580.84 285.1,582.82 285.87,584.81 286.8,586.8 282.93,585.69 282.85,583.83 282.83,582 282.88,580.2 282.98,578.43 283.12,576.68 283.31,574.95" fill="#fff" stroke="#fff" stroke-width="0.3" stroke-linejoin="round" stroke-linecap="round" />
<polygon points="281.07,573.2 280.44,574.62 279.93,576.17 279.56,577.84 279.34,579.64 279.29,581.55 279.42,583.57 275.92,580.25 276.61,578.87 277.36,577.57 278.16,576.33 279.01,575.14 279.89,573.99 280.8,572.89" fill="#fff" stroke="#fff" stroke-width="0.3" stroke-linejoin="round" stroke-linecap="round" />
<polygon points="279.25,570.19 278,570.77 276.83,571.54 275.75,572.48 274.78,573.61 273.92,574.93 273.2,576.44 271.02,571.79 272.3,571.27 273.61,570.84 274.95,570.49 276.32,570.2 277.7,569.97 279.1,569.79" fill="#fff" stroke="#fff" stroke-width="0.3" stroke-linejoin="round" stroke-linecap="round" />
<polygon points="278.64,566.85 277.12,566.45 275.6,566.22 274.1,566.18 272.63,566.34 271.2,566.71 269.83,567.31 269.54,562.59 271.07,563.06 272.6,563.62 274.12,564.25 275.64,564.94 277.15,565.68 278.66,566.47" fill="#fff" stroke="#fff" stroke-width="0.3" stroke-linejoin="round" stroke-linecap="round" />
<polygon points="279.41,564.09 278.02,562.81 276.57,561.65 275.05,560.64 273.47,559.79 271.86,559.12 270.2,558.64 271.88,555.1 273.25,556.44 274.58,557.84 275.88,559.28 277.14,560.77 278.38,562.29 279.59,563.84" fill="#fff" stroke="#fff" stroke-width="0.3" stroke-linejoin="round" stroke-linecap="round" />
<polygon points="281.37,562.65 280.48,560.83 279.47,559.05 278.34,557.34 277.09,555.7 275.71,554.16 274.22,552.74 277.42,551.34 278.26,553.19 279.04,555.05 279.76,556.92 280.43,558.8 281.06,560.69 281.66,562.59" fill="#fff" stroke="#fff" stroke-width="0.3" stroke-linejoin="round" stroke-linecap="round" />
<polygon points="283.97,562.91 283.83,561.03 283.54,559.12 283.09,557.16 282.5,555.18 281.73,553.19 280.8,551.2 284.67,552.31 284.75,554.17 284.77,556 284.72,557.8 284.62,559.57 284.48,561.32 284.29,563.05" fill="#fff" stroke="#fff" stroke-width="0.3" stroke-linejoin="round" stroke-linecap="round" />
<polygon points="286.53,564.8 287.16,563.38 287.67,561.83 288.04,560.16 288.26,558.36 288.31,556.45 288.18,554.43 291.68,557.75 290.99,559.13 290.24,560.43 289.44,561.67 288.59,562.86 287.71,564.01 286.8,565.11" fill="#fff" stroke="#fff" stroke-width="0.3" stroke-linejoin="round" stroke-linecap="round" />
<ellipse cx="283.8" cy="569" rx="1.4" ry="2.05" transform="rotate(-26.565 283.8 569)" fill="#fff" stroke="none" stroke-width="0" />
<circle cx="302.6" cy="559.4" r="2.3" fill="#000" stroke="none" stroke-width="1"/>
<ellipse cx="356.1" cy="532.4" rx="14.38" ry="28.75" transform="rotate(-26.565 356.1 532.4)" fill="#000" stroke="#000" stroke-width="1" />
<ellipse cx="371.48" cy="524.71" rx="14.38" ry="28.75" transform="rotate(-26.565 371.48 524.71)" fill="#000" stroke="#000" stroke-width="1" />
<polygon points="368.96,558.11 384.34,550.42 358.63,498.99 343.24,506.69" fill="#000" stroke="#000" stroke-width="1" stroke-linejoin="round" stroke-linecap="round" />
<polygon points="348.18,505.02 349.08,504.64 350.05,504.39 351.06,504.27 352.12,504.26 353.22,504.39 354.36,504.64 355.53,505.01 356.73,505.51 357.94,506.12 359.17,506.86 360.41,507.7 361.64,508.66 362.88,509.72 364.1,510.88 365.3,512.13 366.49,513.47 367.64,514.89 368.76,516.38 369.85,517.95 370.88,519.57 371.87,521.24 372.81,522.95 373.68,524.7 374.49,526.48 375.24,528.27 375.91,530.08 376.51,531.88 377.03,533.67 377.48,535.45 377.84,537.2 378.12,538.92 378.31,540.59 378.42,542.21 378.44,543.77 378.38,545.27 378.23,546.69 377.99,548.03 377.67,549.29 377.27,550.45 376.78,551.51 376.22,552.47 375.58,553.31 374.87,554.05 374.1,554.67 373.25,555.16 382.94,550.32 383.79,549.82 384.57,549.2 385.28,548.47 385.91,547.62 386.47,546.66 386.96,545.6 387.36,544.44 387.68,543.19 387.92,541.85 388.07,540.42 388.13,538.93 388.11,537.36 388,535.74 387.81,534.07 387.53,532.35 387.17,530.6 386.73,528.83 386.2,527.03 385.6,525.23 384.93,523.43 384.18,521.63 383.37,519.86 382.5,518.11 381.56,516.39 380.58,514.72 379.54,513.1 378.46,511.54 377.33,510.04 376.18,508.62 375,507.28 373.79,506.03 372.57,504.87 371.34,503.81 370.1,502.86 368.86,502.01 367.63,501.28 366.42,500.66 365.22,500.17 364.05,499.79 362.91,499.54 361.81,499.42 360.75,499.42 359.74,499.55 358.78,499.8 357.87,500.17" fill="#fff" stroke="none" stroke-width="0" stroke-linejoin="round" stroke-linecap="round" />
<polyline points="351.4,503.58 358.17,500.2 360.91,499.97 354.14,503.35 357.16,504.01 363.93,500.63 367.13,502.15 360.36,505.53 363.64,507.86 370.41,504.48 373.66,507.54 366.89,510.92 369.98,514.61 376.75,511.23 379.59,515.41 372.82,518.8 375.31,523.34 382.08,519.96 384.14,524.7 377.37,528.08 378.91,532.86 385.68,529.48 386.66,534.13 379.89,537.51 380.28,541.88 387.05,538.5 386.83,542.43 380.07,545.81 379.25,549.17 386.02,545.79 384.63,548.46 377.86,551.85 375.94,553.74 382.71,550.36" fill="none" stroke="#000" stroke-width="2.3" stroke-linejoin="round" stroke-linecap="round" stroke-linejoin="miter"/>
<line x1="359.5" y1="499.97" x2="360.88" y2="499.28" stroke="#000" stroke-width="0.8" />
<line x1="362.39" y1="500.19" x2="363.77" y2="499.49" stroke="#000" stroke-width="0.8" />
<line x1="365.51" y1="501.28" x2="366.9" y2="500.59" stroke="#000" stroke-width="0.8" />
<line x1="368.77" y1="503.21" x2="370.15" y2="502.52" stroke="#000" stroke-width="0.8" />
<line x1="372.05" y1="505.92" x2="373.43" y2="505.23" stroke="#000" stroke-width="0.8" />
<line x1="375.23" y1="509.31" x2="376.61" y2="508.62" stroke="#000" stroke-width="0.8" />
<line x1="378.21" y1="513.27" x2="379.6" y2="512.57" stroke="#000" stroke-width="0.8" />
<line x1="380.89" y1="517.65" x2="382.27" y2="516.96" stroke="#000" stroke-width="0.8" />
<line x1="383.17" y1="522.31" x2="384.55" y2="521.62" stroke="#000" stroke-width="0.8" />
<line x1="384.97" y1="527.09" x2="386.36" y2="526.4" stroke="#000" stroke-width="0.8" />
<line x1="386.24" y1="531.83" x2="387.63" y2="531.14" stroke="#000" stroke-width="0.8" />
<line x1="386.93" y1="536.36" x2="388.32" y2="535.67" stroke="#000" stroke-width="0.8" />
<line x1="387.02" y1="540.53" x2="388.4" y2="539.83" stroke="#000" stroke-width="0.8" />
<line x1="386.5" y1="544.19" x2="387.88" y2="543.49" stroke="#000" stroke-width="0.8" />
<line x1="385.39" y1="547.22" x2="386.77" y2="546.52" stroke="#000" stroke-width="0.8" />
<line x1="383.73" y1="549.51" x2="385.11" y2="548.82" stroke="#000" stroke-width="0.8" />
<ellipse cx="356.1" cy="532.4" rx="14.38" ry="28.75" transform="rotate(-26.565 356.1 532.4)" fill="#000" stroke="#000" stroke-width="1" />
<polygon points="364.7,545.24 364.08,545.92 368.57,553.55 369.54,552.47" fill="#fff" stroke="#fff" stroke-width="0.3" stroke-linejoin="round" stroke-linecap="round" />
<polygon points="363.22,546.52 362.4,546.83 365.95,554.97 367.24,554.47" fill="#fff" stroke="#fff" stroke-width="0.3" stroke-linejoin="round" stroke-linecap="round" />
<polygon points="361.34,546.98 360.36,546.9 362.76,555.08 364.29,555.19" fill="#fff" stroke="#fff" stroke-width="0.3" stroke-linejoin="round" stroke-linecap="round" />
<polygon points="359.14,546.59 358.07,546.13 359.18,553.87 360.86,554.59" fill="#fff" stroke="#fff" stroke-width="0.3" stroke-linejoin="round" stroke-linecap="round" />
<polygon points="356.78,545.38 355.67,544.56 355.42,551.42 357.16,552.7" fill="#fff" stroke="#fff" stroke-width="0.3" stroke-linejoin="round" stroke-linecap="round" />
<polygon points="354.37,543.41 353.29,542.29 351.7,547.86 353.39,549.62" fill="#fff" stroke="#fff" stroke-width="0.3" stroke-linejoin="round" stroke-linecap="round" />
<polygon points="352.06,540.81 351.07,539.43 348.24,543.4 349.79,545.55" fill="#fff" stroke="#fff" stroke-width="0.3" stroke-linejoin="round" stroke-linecap="round" />
<polygon points="349.99,537.71 349.15,536.17 345.23,538.3 346.55,540.71" fill="#fff" stroke="#fff" stroke-width="0.3" stroke-linejoin="round" stroke-linecap="round" />
<polygon points="348.27,534.31 347.63,532.69 342.86,532.86 343.86,535.39" fill="#fff" stroke="#fff" stroke-width="0.3" stroke-linejoin="round" stroke-linecap="round" />
<polygon points="347.01,530.8 346.6,529.2 341.25,527.39 341.89,529.89" fill="#fff" stroke="#fff" stroke-width="0.3" stroke-linejoin="round" stroke-linecap="round" />
<polygon points="346.28,527.37 346.13,525.89 340.51,522.22 340.74,524.54" fill="#fff" stroke="#fff" stroke-width="0.3" stroke-linejoin="round" stroke-linecap="round" />
<polygon points="346.11,524.25 346.23,522.96 340.67,517.63 340.48,519.65" fill="#fff" stroke="#fff" stroke-width="0.3" stroke-linejoin="round" stroke-linecap="round" />
<polygon points="346.53,521.59 346.91,520.57 341.73,513.91 341.14,515.5" fill="#fff" stroke="#fff" stroke-width="0.3" stroke-linejoin="round" stroke-linecap="round" />
<polygon points="347.5,519.56 348.12,518.88 343.63,511.25 342.66,512.33" fill="#fff" stroke="#fff" stroke-width="0.3" stroke-linejoin="round" stroke-linecap="round" />
<polygon points="348.98,518.28 349.8,517.97 346.25,509.83 344.96,510.33" fill="#fff" stroke="#fff" stroke-width="0.3" stroke-linejoin="round" stroke-linecap="round" />
<polygon points="350.86,517.82 351.84,517.9 349.44,509.72 347.91,509.61" fill="#fff" stroke="#fff" stroke-width="0.3" stroke-linejoin="round" stroke-linecap="round" />
<ellipse cx="359.29" cy="530.81" rx="11.11" ry="24.15" transform="rotate(-26.565 359.29 530.81)" fill="#000" stroke="none" stroke-width="0" />
<ellipse cx="359.44" cy="530.73" rx="9.7" ry="22.57" transform="rotate(-26.565 359.44 530.73)" fill="#fff" stroke="none" stroke-width="0" />
<ellipse cx="359.7" cy="530.6" rx="8.96" ry="20.84" transform="rotate(-26.565 359.7 530.6)" fill="none" stroke="#000" stroke-width="0.8" />
<line x1="349.41" y1="510.67" x2="369.47" y2="550.79" stroke="#000" stroke-width="1.3" />
<ellipse cx="359.89" cy="530.5" rx="5.17" ry="10.35" transform="rotate(-26.565 359.89 530.5)" fill="#000" stroke="#000" stroke-width="1" />
<ellipse cx="360.96" cy="529.97" rx="3.17" ry="7.04" transform="rotate(-26.565 360.96 529.97)" fill="none" stroke="#aaa" stroke-width="0.7" />
<circle cx="360.96" cy="529.97" r="0.9" fill="#ddd" stroke="none" stroke-width="1"/>
<ellipse cx="416.64" cy="502.33" rx="14.19" ry="21.5" transform="rotate(-26.565 416.64 502.33)" fill="#000" stroke="#000" stroke-width="1.5" />
<ellipse cx="415.3" cy="503" rx="14.19" ry="21.5" transform="rotate(-26.565 415.3 503)" fill="#fff" stroke="#000" stroke-width="2.6" />
<ellipse cx="415.3" cy="503" rx="11.92" ry="18.06" transform="rotate(-26.565 415.3 503)" fill="none" stroke="#000" stroke-width="1.4" />
<line x1="417.58" y1="503.09" x2="430.06" y2="503.6" stroke="#000" stroke-width="1.7" />
<line x1="417.41" y1="505.21" x2="428.96" y2="517.3" stroke="#000" stroke-width="1.7" />
<line x1="416" y1="506.04" x2="419.85" y2="522.63" stroke="#000" stroke-width="1.7" />
<line x1="414.18" y1="505.08" x2="408.08" y2="516.46" stroke="#000" stroke-width="1.7" />
<line x1="413.02" y1="502.91" x2="400.54" y2="502.4" stroke="#000" stroke-width="1.7" />
<line x1="413.19" y1="500.79" x2="401.64" y2="488.7" stroke="#000" stroke-width="1.7" />
<line x1="414.6" y1="499.96" x2="410.75" y2="483.37" stroke="#000" stroke-width="1.7" />
<line x1="416.42" y1="500.92" x2="422.52" y2="489.54" stroke="#000" stroke-width="1.7" />
<ellipse cx="415.3" cy="503" rx="6.39" ry="9.68" transform="rotate(-26.565 415.3 503)" fill="none" stroke="#000" stroke-width="0.9" />
<ellipse cx="416.19" cy="502.55" rx="3.12" ry="4.73" transform="rotate(-26.565 416.19 502.55)" fill="#fff" stroke="#000" stroke-width="1.6" />
<ellipse cx="416.19" cy="502.55" rx="1.28" ry="1.93" transform="rotate(-26.565 416.19 502.55)" fill="#000" stroke="#000" stroke-width="1" />
<ellipse cx="432.8" cy="493.8" rx="2.55" ry="3.4" transform="rotate(-26.565 432.8 493.8)" fill="#000" stroke="#000" stroke-width="1.5" />
<polyline points="437.5,490.8 450,485.4" fill="none" stroke="#000" stroke-width="3.8" stroke-linejoin="round" stroke-linecap="round" />
<polyline points="437.5,490.8 450,485.4" fill="none" stroke="#fff" stroke-width="1.6" stroke-linejoin="round" stroke-linecap="round" />
<polyline points="460.3,491.7 518.6,461.8" fill="none" stroke="#000" stroke-width="4.6" stroke-linejoin="round" stroke-linecap="round" />
<polyline points="460.3,491.7 518.6,461.8" fill="none" stroke="#fff" stroke-width="1.9" stroke-linejoin="round" stroke-linecap="round" />
<polyline points="450.6,483.6 452.6,488.5 455.4,494.6 458.6,495.2" fill="none" stroke="#000" stroke-width="4.2" stroke-linejoin="round" stroke-linecap="round" />
<circle cx="450.8" cy="483.2" r="2.9" fill="#000" stroke="none" stroke-width="1"/>
<circle cx="456" cy="496" r="3" fill="#000" stroke="none" stroke-width="1"/>
<circle cx="459.6" cy="493.8" r="2.8" fill="#000" stroke="none" stroke-width="1"/>
<polygon points="519,449 522.6,446.8 528.6,453 528.8,460 525.4,463.2 520.8,462.6 518.2,458" fill="#fff" stroke="#000" stroke-width="2.1" stroke-linejoin="round" stroke-linecap="round" />
<polyline points="520,452 523.5,455.5 523.5,458.5" fill="none" stroke="#000" stroke-width="1.6" stroke-linejoin="round" stroke-linecap="round" />
<circle cx="520.2" cy="460.6" r="1.7" fill="#000" stroke="none" stroke-width="1"/>
<circle cx="519.6" cy="451.2" r="1.8" fill="#000" stroke="none" stroke-width="1"/>
<circle cx="526.8" cy="461" r="1.6" fill="#000" stroke="none" stroke-width="1"/>
<polyline points="524.8,448.1 534.6,443.7" fill="none" stroke="#000" stroke-width="3.6" stroke-linejoin="round" stroke-linecap="round" />
<polyline points="524.8,448.1 534.6,443.7" fill="none" stroke="#fff" stroke-width="1.5" stroke-linejoin="round" stroke-linecap="round" />
<ellipse cx="539.4" cy="440.6" rx="2.48" ry="3.1" transform="rotate(-26.565 539.4 440.6)" fill="#000" stroke="#000" stroke-width="1.5" />
<ellipse cx="558.38" cy="430.81" rx="14.21" ry="22.2" transform="rotate(-26.565 558.38 430.81)" fill="#000" stroke="#000" stroke-width="1.6" />
<ellipse cx="557.4" cy="431.3" rx="14.21" ry="22.2" transform="rotate(-26.565 557.4 431.3)" fill="#fff" stroke="#000" stroke-width="2.0" />
<ellipse cx="557.4" cy="431.3" rx="2.84" ry="4.44" transform="rotate(-26.565 557.4 431.3)" fill="#fff" stroke="#000" stroke-width="1.4" />
<ellipse cx="555.97" cy="432.02" rx="3.13" ry="4.88" transform="rotate(-26.565 555.97 432.02)" fill="#fff" stroke="#000" stroke-width="2.0" />
<ellipse cx="555.61" cy="432.19" rx="1.28" ry="2" transform="rotate(-26.565 555.61 432.19)" fill="#000" stroke="#000" stroke-width="1.0" />
<ellipse cx="585.6" cy="416.7" rx="10.24" ry="25.6" transform="rotate(-26.565 585.6 416.7)" fill="#000" stroke="#000" stroke-width="1" />
<ellipse cx="602.24" cy="408.38" rx="10.24" ry="25.6" transform="rotate(-26.565 602.24 408.38)" fill="#000" stroke="#000" stroke-width="1" />
<polygon points="597.05,439.6 613.69,431.28 590.79,385.48 574.15,393.8" fill="#000" stroke="#000" stroke-width="1" stroke-linejoin="round" stroke-linecap="round" />
<path d="M584.03 391.4 A9.93 24.83 -26.565 0 1 604.45 434.09" fill="none" stroke="#555" stroke-width="0.6"/>
<path d="M588.18 389.32 A9.93 24.83 -26.565 0 1 608.61 432.01" fill="none" stroke="#555" stroke-width="0.6"/>
<path d="M592.34 387.24 A9.93 24.83 -26.565 0 1 612.77 429.93" fill="none" stroke="#555" stroke-width="0.6"/>
<ellipse cx="585.6" cy="416.7" rx="10.14" ry="25.34" transform="rotate(-26.565 585.6 416.7)" fill="#000" stroke="#000" stroke-width="1" />
<path d="M594.22 437.48 A9.11 22.78 -26.565 0 1 575.13 396.48" fill="none" stroke="#bbb" stroke-width="0.9"/>
<line x1="588.42" y1="407.22" x2="585.07" y2="401.48" stroke="#fff" stroke-width="1.5" />
<line x1="587.35" y1="403.9" x2="584.85" y2="399.46" stroke="#ddd" stroke-width="0.9" />
<line x1="589.46" y1="406.23" x2="587.27" y2="400.13" stroke="#fff" stroke-width="1.5" />
<line x1="589.29" y1="403.49" x2="587.72" y2="398.86" stroke="#ddd" stroke-width="0.9" />
<line x1="591.13" y1="406.65" x2="590.55" y2="401.42" stroke="#fff" stroke-width="1.5" />
<line x1="591.91" y1="405.05" x2="591.58" y2="401.16" stroke="#ddd" stroke-width="0.9" />
<line x1="593.1" y1="408.4" x2="594.25" y2="405.1" stroke="#fff" stroke-width="1.5" />
<line x1="594.66" y1="408.26" x2="595.65" y2="405.9" stroke="#ddd" stroke-width="0.9" />
<line x1="594.96" y1="411.12" x2="597.6" y2="410.42" stroke="#fff" stroke-width="1.5" />
<line x1="596.99" y1="412.47" x2="599.09" y2="412.12" stroke="#ddd" stroke-width="0.9" />
<line x1="596.34" y1="414.26" x2="599.95" y2="416.3" stroke="#fff" stroke-width="1.5" />
<line x1="598.43" y1="416.83" x2="601.22" y2="418.56" stroke="#ddd" stroke-width="0.9" />
<line x1="596.97" y1="417.19" x2="600.8" y2="421.56" stroke="#fff" stroke-width="1.5" />
<line x1="598.69" y1="420.46" x2="601.6" y2="423.91" stroke="#ddd" stroke-width="0.9" />
<line x1="596.7" y1="419.31" x2="599.99" y2="425.12" stroke="#fff" stroke-width="1.5" />
<line x1="597.71" y1="422.62" x2="600.15" y2="427.1" stroke="#ddd" stroke-width="0.9" />
<line x1="595.61" y1="420.2" x2="597.68" y2="426.28" stroke="#fff" stroke-width="1.5" />
<line x1="595.7" y1="422.87" x2="597.18" y2="427.48" stroke="#ddd" stroke-width="0.9" />
<line x1="593.45" y1="419.35" x2="594.03" y2="423.45" stroke="#ccc" stroke-width="1.0" />
<line x1="591.18" y1="416.85" x2="590.24" y2="419.27" stroke="#ccc" stroke-width="1.0" />
<line x1="589.28" y1="413.37" x2="587.08" y2="413.47" stroke="#ccc" stroke-width="1.0" />
<line x1="588.27" y1="409.84" x2="585.4" y2="407.6" stroke="#ccc" stroke-width="1.0" />
<line x1="585.98" y1="393.45" x2="591.3" y2="390.79" stroke="#fff" stroke-width="1.3" />
<line x1="592.14" y1="393.87" x2="597.13" y2="391.38" stroke="#fff" stroke-width="1.3" />
<line x1="591.72" y1="398.43" x2="597.05" y2="395.77" stroke="#fff" stroke-width="1.3" />
<line x1="597.91" y1="400.36" x2="602.9" y2="397.86" stroke="#fff" stroke-width="1.3" />
<line x1="597.27" y1="406.14" x2="602.59" y2="403.48" stroke="#fff" stroke-width="1.3" />
<line x1="602.99" y1="408.95" x2="607.98" y2="406.46" stroke="#fff" stroke-width="1.3" />
<line x1="601.66" y1="415.25" x2="606.99" y2="412.58" stroke="#fff" stroke-width="1.3" />
<line x1="606.51" y1="418.17" x2="611.5" y2="415.67" stroke="#fff" stroke-width="1.3" />
<line x1="604.14" y1="424.17" x2="609.47" y2="421.51" stroke="#fff" stroke-width="1.3" />
<ellipse cx="592.59" cy="413.21" rx="1.23" ry="3.07" transform="rotate(-26.565 592.59 413.21)" fill="#000" stroke="#999" stroke-width="0.7" />
<line x1="584.14" y1="426.87" x2="583.7" y2="429.96" stroke="#666" stroke-width="0.8" />
<line x1="580.24" y1="421.03" x2="578.61" y2="422.34" stroke="#666" stroke-width="0.8" />
<line x1="577.34" y1="414.37" x2="574.83" y2="413.67" stroke="#666" stroke-width="0.8" />
<line x1="575.98" y1="408.15" x2="573.07" y2="405.56" stroke="#666" stroke-width="0.8" />
<circle cx="617.4" cy="402" r="2.3" fill="#000" stroke="none" stroke-width="1"/>
<ellipse cx="635.76" cy="391.92" rx="15.23" ry="22.4" transform="rotate(-26.565 635.76 391.92)" fill="#000" stroke="#000" stroke-width="1.2" />
<ellipse cx="634.6" cy="392.5" rx="15.23" ry="22.4" transform="rotate(-26.565 634.6 392.5)" fill="#000" stroke="#000" stroke-width="1.4" />
<polygon points="639.08,391.36 640.23,391.01 641.41,390.71 642.6,390.47 643.81,390.28 645.05,390.16 646.31,390.13 647.39,394.44 645.97,393.53 644.56,392.81 643.17,392.27 641.81,391.92 640.49,391.73 639.21,391.71" fill="#fff" stroke="#fff" stroke-width="0.3" stroke-linejoin="round" stroke-linecap="round" />
<polygon points="639.56,395.64 640.86,396.41 642.16,397.24 643.45,398.1 644.72,399.02 645.98,400 647.23,401.04 645.96,404.38 645.07,402.67 644.09,401.08 643.03,399.6 641.9,398.25 640.72,397.03 639.49,395.94" fill="#fff" stroke="#fff" stroke-width="0.3" stroke-linejoin="round" stroke-linecap="round" />
<polygon points="637.72,398.45 638.56,399.99 639.38,401.54 640.16,403.12 640.9,404.71 641.59,406.32 642.24,407.96 639.21,408.77 639.27,407.06 639.18,405.33 638.94,403.61 638.58,401.9 638.09,400.21 637.49,398.57" fill="#fff" stroke="#fff" stroke-width="0.3" stroke-linejoin="round" stroke-linecap="round" />
<polygon points="634.42,398.48 634.41,400.06 634.36,401.62 634.27,403.16 634.13,404.68 633.93,406.18 633.68,407.65 630.3,405.54 631.28,404.63 632.12,403.58 632.83,402.42 633.39,401.15 633.83,399.79 634.13,398.35" fill="#fff" stroke="#fff" stroke-width="0.3" stroke-linejoin="round" stroke-linecap="round" />
<polygon points="631.2,395.71 630.34,396.59 629.45,397.43 628.53,398.22 627.58,398.96 626.58,399.64 625.54,400.24 623.41,396.21 624.85,396.53 626.23,396.65 627.54,396.58 628.77,396.35 629.93,395.95 631,395.4" fill="#fff" stroke="#fff" stroke-width="0.3" stroke-linejoin="round" stroke-linecap="round" />
<polygon points="629.58,391.44 628.27,391.21 626.96,390.93 625.64,390.6 624.31,390.21 622.98,389.75 621.65,389.22 621.75,385.15 622.98,386.54 624.25,387.77 625.56,388.84 626.88,389.75 628.21,390.5 629.54,391.09" fill="#fff" stroke="#fff" stroke-width="0.3" stroke-linejoin="round" stroke-linecap="round" />
<polygon points="630.3,387.66 629.16,386.43 628.04,385.17 626.94,383.87 625.86,382.53 624.82,381.15 623.81,379.73 626.1,377.52 626.54,379.34 627.12,381.11 627.8,382.81 628.6,384.44 629.49,385.98 630.46,387.44" fill="#fff" stroke="#fff" stroke-width="0.3" stroke-linejoin="round" stroke-linecap="round" />
<polygon points="633.04,386.15 632.59,384.49 632.19,382.84 631.82,381.18 631.5,379.52 631.23,377.86 631.03,376.21 634.43,376.9 633.88,378.3 633.48,379.78 633.23,381.31 633.13,382.9 633.15,384.52 633.31,386.16" fill="#fff" stroke="#fff" stroke-width="0.3" stroke-linejoin="round" stroke-linecap="round" />
<polygon points="636.51,387.61 636.97,386.3 637.47,385.03 638,383.78 638.59,382.58 639.22,381.42 639.91,380.32 642.84,383.58 641.55,383.9 640.37,384.39 639.3,385.05 638.34,385.85 637.5,386.79 636.77,387.84" fill="#fff" stroke="#fff" stroke-width="0.3" stroke-linejoin="round" stroke-linecap="round" />
<ellipse cx="634.6" cy="392.5" rx="1.22" ry="1.79" transform="rotate(-26.565 634.6 392.5)" fill="#fff" stroke="none" stroke-width="0" />
<path d="M629.06 373.5 A13.71 20.16 -26.565 0 1 645.61 409.19" fill="none" stroke="#fff" stroke-width="0.8"/>
<line x1="341" y1="203.7" x2="356.5" y2="196.3" stroke="#333" stroke-width="0.9" />
<line x1="367" y1="191.3" x2="389" y2="180.7" stroke="#333" stroke-width="0.9" />
<line x1="336" y1="542.4" x2="350" y2="535.6" stroke="#333" stroke-width="0.9" />
<line x1="124" y1="313.6" x2="127" y2="312.2" stroke="#333" stroke-width="0.9" />
<line x1="542.5" y1="439" x2="551.5" y2="434.3" stroke="#333" stroke-width="0.9" />
<line x1="28.08" y1="237.57" x2="64" y2="309" stroke="#161616" stroke-width="1.1" />
<line x1="52.06" y1="225.58" x2="102" y2="321.5" stroke="#161616" stroke-width="1.1" />
<line x1="80.41" y1="212.21" x2="114" y2="271.2" stroke="#161616" stroke-width="1.1" />
<line x1="144.03" y1="181.4" x2="182" y2="250" stroke="#161616" stroke-width="1.1" />
<line x1="166.39" y1="168.22" x2="218" y2="256" stroke="#161616" stroke-width="1.1" />
<line x1="211.14" y1="150.65" x2="264.5" y2="234" stroke="#161616" stroke-width="1.1" />
<line x1="253.93" y1="132.26" x2="309.2" y2="217.8" stroke="#161616" stroke-width="1.1" />
<line x1="278.18" y1="112.63" x2="330.4" y2="200" stroke="#161616" stroke-width="1.1" />
<line x1="310.23" y1="102.46" x2="350.2" y2="164" stroke="#161616" stroke-width="1.1" />
<line x1="379.26" y1="75.98" x2="405.4" y2="125.9" stroke="#161616" stroke-width="1.1" />
<line x1="435.79" y1="45.17" x2="478.5" y2="131.5" stroke="#161616" stroke-width="1.1" />
<line x1="464.82" y1="34.46" x2="500.2" y2="88.2" stroke="#161616" stroke-width="1.1" />
<line x1="517.76" y1="226.7" x2="518.7" y2="265" stroke="#161616" stroke-width="1.1" />
<line x1="493.3" y1="239.56" x2="510" y2="273.8" stroke="#161616" stroke-width="1.1" />
<line x1="471.72" y1="248.42" x2="501.1" y2="280.5" stroke="#161616" stroke-width="1.1" />
<line x1="452.77" y1="261.58" x2="483.7" y2="287.2" stroke="#161616" stroke-width="1.1" />
<line x1="428.04" y1="270.27" x2="465.7" y2="293.3" stroke="#161616" stroke-width="1.1" />
<line x1="394.41" y1="284.13" x2="456.3" y2="290.9" stroke="#161616" stroke-width="1.1" />
<line x1="337.6" y1="297.2" x2="328" y2="266.8" stroke="#161616" stroke-width="1.1" />
<line x1="352.6" y1="300.4" x2="289" y2="287" stroke="#161616" stroke-width="1.1" />
<line x1="322.44" y1="316.69" x2="286.3" y2="299.3" stroke="#161616" stroke-width="1.1" />
<line x1="301.52" y1="339.19" x2="336" y2="359.4" stroke="#161616" stroke-width="1.1" />
<line x1="283.13" y1="350.77" x2="322.3" y2="367.4" stroke="#161616" stroke-width="1.1" />
<line x1="263.5" y1="365.8" x2="309.7" y2="369.9" stroke="#161616" stroke-width="1.1" />
<line x1="323.9" y1="394.2" x2="307.4" y2="380.5" stroke="#161616" stroke-width="1.1" />
<line x1="323.9" y1="394.2" x2="330.7" y2="368.1" stroke="#161616" stroke-width="1.1" />
<line x1="323.9" y1="394.2" x2="344" y2="360.6" stroke="#161616" stroke-width="1.1" />
<line x1="323.9" y1="394.2" x2="323.4" y2="405.6" stroke="#161616" stroke-width="1.1" />
<line x1="343.76" y1="405.58" x2="350.9" y2="358.3" stroke="#161616" stroke-width="1.1" />
<line x1="364" y1="405.6" x2="361.1" y2="357.1" stroke="#161616" stroke-width="1.1" />
<line x1="384.24" y1="405.58" x2="374.4" y2="340" stroke="#161616" stroke-width="1.1" />
<line x1="413.29" y1="405.55" x2="433.6" y2="328.6" stroke="#161616" stroke-width="1.1" />
<line x1="438.93" y1="406.08" x2="451.4" y2="334.2" stroke="#161616" stroke-width="1.1" />
<line x1="465.2" y1="406.1" x2="465.2" y2="342" stroke="#161616" stroke-width="1.1" />
<line x1="496.84" y1="406.1" x2="495.7" y2="357.5" stroke="#161616" stroke-width="1.1" />
<line x1="524.7" y1="303.1" x2="528.6" y2="269.4" stroke="#161616" stroke-width="1.1" />
<line x1="524.7" y1="303.1" x2="509" y2="279" stroke="#161616" stroke-width="1.1" />
<line x1="524.7" y1="303.1" x2="491.6" y2="287.5" stroke="#161616" stroke-width="1.1" />
<line x1="524.7" y1="303.1" x2="536.2" y2="316.2" stroke="#161616" stroke-width="1.1" />
<line x1="680.97" y1="454.47" x2="650" y2="414" stroke="#161616" stroke-width="1.1" />
<line x1="660.91" y1="465.32" x2="618.8" y2="404" stroke="#161616" stroke-width="1.1" />
<line x1="630.84" y1="478.56" x2="606" y2="438" stroke="#161616" stroke-width="1.1" />
<line x1="600.87" y1="496.14" x2="570.8" y2="450" stroke="#161616" stroke-width="1.1" />
<line x1="571.47" y1="509.45" x2="540.8" y2="443.2" stroke="#161616" stroke-width="1.1" />
<line x1="526.9" y1="530.52" x2="491.2" y2="478" stroke="#161616" stroke-width="1.1" />
<line x1="474.88" y1="556.54" x2="435.2" y2="496" stroke="#161616" stroke-width="1.1" />
<line x1="450.68" y1="567.64" x2="421.7" y2="523.4" stroke="#161616" stroke-width="1.1" />
<line x1="407.86" y1="592.65" x2="382.3" y2="552.6" stroke="#161616" stroke-width="1.1" />
<line x1="344.81" y1="620.71" x2="303.4" y2="561.1" stroke="#161616" stroke-width="1.1" />
<line x1="320.42" y1="635.11" x2="289.7" y2="591.3" stroke="#161616" stroke-width="1.1" />
<text x="16" y="238.4" font-size="16.3" textLength="17" lengthAdjust="spacingAndGlyphs">54</text>
<text x="40" y="226.4" font-size="16.3" textLength="17" lengthAdjust="spacingAndGlyphs">37</text>
<text x="68" y="213" font-size="16.3" textLength="17" lengthAdjust="spacingAndGlyphs">55</text>
<text x="131.2" y="182.2" font-size="16.3" textLength="17" lengthAdjust="spacingAndGlyphs">56</text>
<text x="154.4" y="169" font-size="16.3" textLength="17" lengthAdjust="spacingAndGlyphs">57</text>
<text x="199.2" y="151.4" font-size="16.3" textLength="17" lengthAdjust="spacingAndGlyphs">59</text>
<text x="242" y="133" font-size="16.3" textLength="17" lengthAdjust="spacingAndGlyphs">58</text>
<text x="266" y="113.4" font-size="16.3" textLength="17" lengthAdjust="spacingAndGlyphs">57</text>
<text x="298" y="103.2" font-size="16.3" textLength="17" lengthAdjust="spacingAndGlyphs">56</text>
<text x="366.9" y="76.8" font-size="16.3" textLength="17" lengthAdjust="spacingAndGlyphs">55</text>
<text x="423.8" y="46" font-size="16.3" textLength="17" lengthAdjust="spacingAndGlyphs">37</text>
<text x="453.2" y="35.2" font-size="16.3" textLength="17" lengthAdjust="spacingAndGlyphs">54</text>
<text x="507.4" y="227" font-size="16.3" textLength="17" lengthAdjust="spacingAndGlyphs">53</text>
<text x="482.4" y="239.6" font-size="16.3" textLength="17" lengthAdjust="spacingAndGlyphs">48</text>
<text x="460.2" y="248.2" font-size="16.3" textLength="17" lengthAdjust="spacingAndGlyphs">51</text>
<text x="440" y="261.2" font-size="16.3" textLength="17" lengthAdjust="spacingAndGlyphs">48</text>
<text x="413.1" y="275" font-size="16.3" textLength="17" lengthAdjust="spacingAndGlyphs">47</text>
<text x="380.1" y="289.8" font-size="16.3" textLength="17" lengthAdjust="spacingAndGlyphs">46</text>
<text x="351" y="309" font-size="16.3" textLength="17" lengthAdjust="spacingAndGlyphs">52</text>
<text x="319.2" y="325.5" font-size="16.3" textLength="17" lengthAdjust="spacingAndGlyphs">35</text>
<text x="289.2" y="342.4" font-size="16.3" textLength="17" lengthAdjust="spacingAndGlyphs">51</text>
<text x="269.6" y="354" font-size="16.3" textLength="17" lengthAdjust="spacingAndGlyphs">48</text>
<text x="247.2" y="371.8" font-size="16.3" textLength="17" lengthAdjust="spacingAndGlyphs">50</text>
<text x="313" y="417.4" font-size="16.3" textLength="17" lengthAdjust="spacingAndGlyphs">49</text>
<text x="334.7" y="417.4" font-size="16.3" textLength="17" lengthAdjust="spacingAndGlyphs">48</text>
<text x="355.3" y="417.4" font-size="16.3" textLength="17" lengthAdjust="spacingAndGlyphs">47</text>
<text x="376.3" y="417.4" font-size="16.3" textLength="17" lengthAdjust="spacingAndGlyphs">46</text>
<text x="403.3" y="417.4" font-size="16.3" textLength="17" lengthAdjust="spacingAndGlyphs">45</text>
<text x="429.2" y="417" font-size="16.3" textLength="17" lengthAdjust="spacingAndGlyphs">44</text>
<text x="456" y="417" font-size="16.3" textLength="17" lengthAdjust="spacingAndGlyphs">43</text>
<text x="488" y="417" font-size="16.3" textLength="17" lengthAdjust="spacingAndGlyphs">42</text>
<text x="529.7" y="326.5" font-size="16.3" textLength="17" lengthAdjust="spacingAndGlyphs">49</text>
<text x="674.4" y="465" font-size="16.3" textLength="17" lengthAdjust="spacingAndGlyphs">36</text>
<text x="654" y="475.6" font-size="16.3" textLength="17" lengthAdjust="spacingAndGlyphs">37</text>
<text x="625.2" y="489.6" font-size="16.3" textLength="17" lengthAdjust="spacingAndGlyphs">38</text>
<text x="595.2" y="506.4" font-size="16.3" textLength="17" lengthAdjust="spacingAndGlyphs">39</text>
<text x="565.2" y="519.6" font-size="16.3" textLength="17" lengthAdjust="spacingAndGlyphs">40</text>
<text x="524" y="541" font-size="16.3" textLength="17" lengthAdjust="spacingAndGlyphs">41</text>
<text x="470.4" y="566.8" font-size="16.3" textLength="17" lengthAdjust="spacingAndGlyphs">40</text>
<text x="445.2" y="578.6" font-size="16.3" textLength="17" lengthAdjust="spacingAndGlyphs">39</text>
<text x="402" y="603.5" font-size="16.3" textLength="17" lengthAdjust="spacingAndGlyphs">38</text>
<text x="339.3" y="631.6" font-size="16.3" textLength="17" lengthAdjust="spacingAndGlyphs">37</text>
<text x="315.3" y="646.2" font-size="16.3" textLength="17" lengthAdjust="spacingAndGlyphs">36</text>
</svg>
</body></html>
